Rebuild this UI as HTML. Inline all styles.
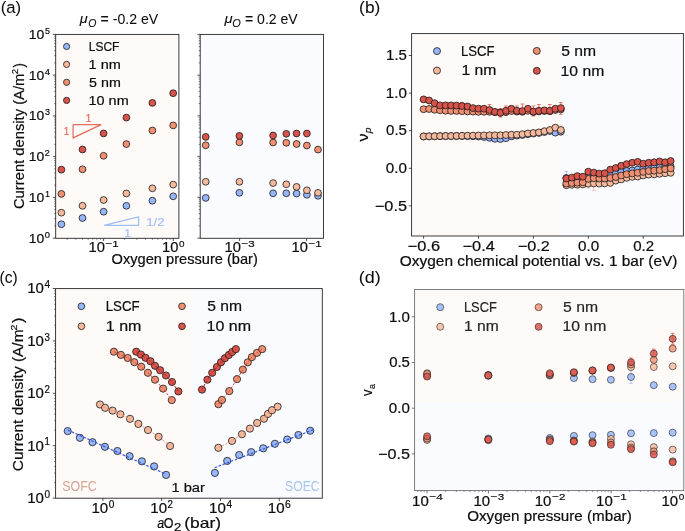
<!DOCTYPE html>
<html><head><meta charset="utf-8"><style>
html,body{margin:0;padding:0;background:#fff;}
svg{display:block;font-family:"Liberation Sans", sans-serif;font-kerning:none;filter:blur(0.4px);}
</style></head><body>
<svg width="685" height="531" viewBox="0 0 685 531">
<rect x="0" y="0" width="685" height="531" fill="#fff"/>
<rect x="56.20" y="34.90" width="122.20" height="202.90" fill="#fefaf7"/>
<rect x="200.70" y="34.90" width="122.30" height="202.90" fill="#f9fbfe"/>
<polyline points="73.10,124.60 101.10,124.60 73.10,137.90 73.10,124.60" fill="none" stroke="#e46d5d" stroke-width="1.25"/>
<text x="85.49" y="121.90" font-size="11.20" textLength="5.93" lengthAdjust="spacingAndGlyphs" fill="#e46d5d" stroke="#e46d5d" stroke-width="0.15">1</text>
<text x="63.49" y="135.00" font-size="11.20" textLength="5.93" lengthAdjust="spacingAndGlyphs" fill="#e46d5d" stroke="#e46d5d" stroke-width="0.15">1</text>
<polyline points="104.10,225.30 138.60,225.30 138.60,216.90 104.10,225.30" fill="none" stroke="#a0bef8" stroke-width="1.3"/>
<text x="146.19" y="225.50" font-size="11.20" textLength="18.37" lengthAdjust="spacingAndGlyphs" fill="#a0bef8" stroke="#a0bef8" stroke-width="0.15">1/2</text>
<text x="124.38" y="236.50" font-size="11.20" textLength="6.71" lengthAdjust="spacingAndGlyphs" fill="#a0bef8" stroke="#a0bef8" stroke-width="0.15">1</text>
<circle cx="61.40" cy="224.20" r="3.4" fill="#96b6fb" stroke="#1a1a1a" stroke-width="0.8"/>
<circle cx="82.50" cy="218.00" r="3.4" fill="#96b6fb" stroke="#1a1a1a" stroke-width="0.8"/>
<circle cx="103.60" cy="211.70" r="3.4" fill="#96b6fb" stroke="#1a1a1a" stroke-width="0.8"/>
<circle cx="126.40" cy="205.80" r="3.4" fill="#96b6fb" stroke="#1a1a1a" stroke-width="0.8"/>
<circle cx="152.40" cy="200.70" r="3.4" fill="#96b6fb" stroke="#1a1a1a" stroke-width="0.8"/>
<circle cx="173.20" cy="196.30" r="3.4" fill="#96b6fb" stroke="#1a1a1a" stroke-width="0.8"/>
<circle cx="205.70" cy="197.90" r="3.4" fill="#96b6fb" stroke="#1a1a1a" stroke-width="0.8"/>
<circle cx="239.40" cy="192.80" r="3.4" fill="#96b6fb" stroke="#1a1a1a" stroke-width="0.8"/>
<circle cx="273.10" cy="193.30" r="3.4" fill="#96b6fb" stroke="#1a1a1a" stroke-width="0.8"/>
<circle cx="286.30" cy="193.30" r="3.4" fill="#96b6fb" stroke="#1a1a1a" stroke-width="0.8"/>
<circle cx="296.60" cy="193.60" r="3.4" fill="#96b6fb" stroke="#1a1a1a" stroke-width="0.8"/>
<circle cx="306.90" cy="194.80" r="3.4" fill="#96b6fb" stroke="#1a1a1a" stroke-width="0.8"/>
<circle cx="318.00" cy="195.80" r="3.4" fill="#96b6fb" stroke="#1a1a1a" stroke-width="0.8"/>
<circle cx="61.40" cy="212.70" r="3.4" fill="#f5b99d" stroke="#1a1a1a" stroke-width="0.8"/>
<circle cx="82.50" cy="205.80" r="3.4" fill="#f5b99d" stroke="#1a1a1a" stroke-width="0.8"/>
<circle cx="103.60" cy="200.00" r="3.4" fill="#f5b99d" stroke="#1a1a1a" stroke-width="0.8"/>
<circle cx="126.40" cy="193.40" r="3.4" fill="#f5b99d" stroke="#1a1a1a" stroke-width="0.8"/>
<circle cx="152.40" cy="188.30" r="3.4" fill="#f5b99d" stroke="#1a1a1a" stroke-width="0.8"/>
<circle cx="173.20" cy="184.60" r="3.4" fill="#f5b99d" stroke="#1a1a1a" stroke-width="0.8"/>
<circle cx="205.70" cy="181.80" r="3.4" fill="#f5b99d" stroke="#1a1a1a" stroke-width="0.8"/>
<circle cx="239.40" cy="181.80" r="3.4" fill="#f5b99d" stroke="#1a1a1a" stroke-width="0.8"/>
<circle cx="273.10" cy="183.10" r="3.4" fill="#f5b99d" stroke="#1a1a1a" stroke-width="0.8"/>
<circle cx="286.30" cy="184.30" r="3.4" fill="#f5b99d" stroke="#1a1a1a" stroke-width="0.8"/>
<circle cx="296.60" cy="186.90" r="3.4" fill="#f5b99d" stroke="#1a1a1a" stroke-width="0.8"/>
<circle cx="306.90" cy="190.30" r="3.4" fill="#f5b99d" stroke="#1a1a1a" stroke-width="0.8"/>
<circle cx="318.00" cy="192.80" r="3.4" fill="#f5b99d" stroke="#1a1a1a" stroke-width="0.8"/>
<circle cx="61.40" cy="193.90" r="3.4" fill="#f09072" stroke="#1a1a1a" stroke-width="0.8"/>
<circle cx="82.50" cy="169.30" r="3.4" fill="#f09072" stroke="#1a1a1a" stroke-width="0.8"/>
<circle cx="103.60" cy="155.80" r="3.4" fill="#f09072" stroke="#1a1a1a" stroke-width="0.8"/>
<circle cx="126.40" cy="144.10" r="3.4" fill="#f09072" stroke="#1a1a1a" stroke-width="0.8"/>
<circle cx="152.40" cy="130.50" r="3.4" fill="#f09072" stroke="#1a1a1a" stroke-width="0.8"/>
<circle cx="173.20" cy="125.40" r="3.4" fill="#f09072" stroke="#1a1a1a" stroke-width="0.8"/>
<circle cx="205.70" cy="145.30" r="3.4" fill="#f09072" stroke="#1a1a1a" stroke-width="0.8"/>
<circle cx="239.40" cy="142.30" r="3.4" fill="#f09072" stroke="#1a1a1a" stroke-width="0.8"/>
<circle cx="273.10" cy="142.50" r="3.4" fill="#f09072" stroke="#1a1a1a" stroke-width="0.8"/>
<circle cx="286.30" cy="142.80" r="3.4" fill="#f09072" stroke="#1a1a1a" stroke-width="0.8"/>
<circle cx="296.60" cy="144.00" r="3.4" fill="#f09072" stroke="#1a1a1a" stroke-width="0.8"/>
<circle cx="306.90" cy="145.50" r="3.4" fill="#f09072" stroke="#1a1a1a" stroke-width="0.8"/>
<circle cx="318.00" cy="149.60" r="3.4" fill="#f09072" stroke="#1a1a1a" stroke-width="0.8"/>
<circle cx="61.40" cy="169.70" r="3.4" fill="#d8534a" stroke="#1a1a1a" stroke-width="0.8"/>
<circle cx="82.50" cy="149.50" r="3.4" fill="#d8534a" stroke="#1a1a1a" stroke-width="0.8"/>
<circle cx="103.60" cy="133.40" r="3.4" fill="#d8534a" stroke="#1a1a1a" stroke-width="0.8"/>
<circle cx="126.40" cy="117.60" r="3.4" fill="#d8534a" stroke="#1a1a1a" stroke-width="0.8"/>
<circle cx="152.40" cy="102.90" r="3.4" fill="#d8534a" stroke="#1a1a1a" stroke-width="0.8"/>
<circle cx="173.20" cy="93.20" r="3.4" fill="#d8534a" stroke="#1a1a1a" stroke-width="0.8"/>
<circle cx="205.70" cy="136.90" r="3.4" fill="#d8534a" stroke="#1a1a1a" stroke-width="0.8"/>
<circle cx="239.40" cy="135.90" r="3.4" fill="#d8534a" stroke="#1a1a1a" stroke-width="0.8"/>
<circle cx="273.10" cy="135.50" r="3.4" fill="#d8534a" stroke="#1a1a1a" stroke-width="0.8"/>
<circle cx="286.30" cy="133.80" r="3.4" fill="#d8534a" stroke="#1a1a1a" stroke-width="0.8"/>
<circle cx="296.60" cy="133.50" r="3.4" fill="#d8534a" stroke="#1a1a1a" stroke-width="0.8"/>
<circle cx="306.90" cy="133.50" r="3.4" fill="#d8534a" stroke="#1a1a1a" stroke-width="0.8"/>
<circle cx="66.60" cy="46.50" r="3.1" fill="#96b6fb" stroke="#1a1a1a" stroke-width="0.8"/>
<text x="88.72" y="50.70" font-size="13.16" textLength="30.66" lengthAdjust="spacingAndGlyphs" fill="#0d0d0d" stroke="#0d0d0d" stroke-width="0.2">LSCF</text>
<circle cx="66.60" cy="64.40" r="3.1" fill="#f5b99d" stroke="#1a1a1a" stroke-width="0.8"/>
<text x="88.59" y="68.90" font-size="13.16" textLength="32.26" lengthAdjust="spacingAndGlyphs" fill="#0d0d0d" stroke="#0d0d0d" stroke-width="0.2">1 nm</text>
<circle cx="66.60" cy="82.30" r="3.1" fill="#f09072" stroke="#1a1a1a" stroke-width="0.8"/>
<text x="89.13" y="86.90" font-size="13.16" textLength="31.71" lengthAdjust="spacingAndGlyphs" fill="#0d0d0d" stroke="#0d0d0d" stroke-width="0.2">5 nm</text>
<circle cx="66.60" cy="100.40" r="3.1" fill="#d8534a" stroke="#1a1a1a" stroke-width="0.8"/>
<text x="88.60" y="105.00" font-size="13.16" textLength="40.05" lengthAdjust="spacingAndGlyphs" fill="#0d0d0d" stroke="#0d0d0d" stroke-width="0.2">10 nm</text>
<rect x="55.70" y="34.40" width="123.20" height="203.90" fill="none" stroke="#262626" stroke-width="0.9"/>
<rect x="200.20" y="34.40" width="123.30" height="203.90" fill="none" stroke="#262626" stroke-width="0.9"/>
<line x1="52.90" y1="238.10" x2="55.70" y2="238.10" stroke="#262626" stroke-width="0.8"/>
<line x1="54.20" y1="225.84" x2="55.70" y2="225.84" stroke="#262626" stroke-width="0.6"/>
<line x1="54.20" y1="218.66" x2="55.70" y2="218.66" stroke="#262626" stroke-width="0.6"/>
<line x1="54.20" y1="213.57" x2="55.70" y2="213.57" stroke="#262626" stroke-width="0.6"/>
<line x1="54.20" y1="209.62" x2="55.70" y2="209.62" stroke="#262626" stroke-width="0.6"/>
<line x1="54.20" y1="206.40" x2="55.70" y2="206.40" stroke="#262626" stroke-width="0.6"/>
<line x1="54.20" y1="203.67" x2="55.70" y2="203.67" stroke="#262626" stroke-width="0.6"/>
<line x1="54.20" y1="201.31" x2="55.70" y2="201.31" stroke="#262626" stroke-width="0.6"/>
<line x1="54.20" y1="199.22" x2="55.70" y2="199.22" stroke="#262626" stroke-width="0.6"/>
<line x1="52.90" y1="197.36" x2="55.70" y2="197.36" stroke="#262626" stroke-width="0.8"/>
<line x1="54.20" y1="185.10" x2="55.70" y2="185.10" stroke="#262626" stroke-width="0.6"/>
<line x1="54.20" y1="177.92" x2="55.70" y2="177.92" stroke="#262626" stroke-width="0.6"/>
<line x1="54.20" y1="172.83" x2="55.70" y2="172.83" stroke="#262626" stroke-width="0.6"/>
<line x1="54.20" y1="168.88" x2="55.70" y2="168.88" stroke="#262626" stroke-width="0.6"/>
<line x1="54.20" y1="165.66" x2="55.70" y2="165.66" stroke="#262626" stroke-width="0.6"/>
<line x1="54.20" y1="162.93" x2="55.70" y2="162.93" stroke="#262626" stroke-width="0.6"/>
<line x1="54.20" y1="160.57" x2="55.70" y2="160.57" stroke="#262626" stroke-width="0.6"/>
<line x1="54.20" y1="158.48" x2="55.70" y2="158.48" stroke="#262626" stroke-width="0.6"/>
<line x1="52.90" y1="156.62" x2="55.70" y2="156.62" stroke="#262626" stroke-width="0.8"/>
<line x1="54.20" y1="144.36" x2="55.70" y2="144.36" stroke="#262626" stroke-width="0.6"/>
<line x1="54.20" y1="137.18" x2="55.70" y2="137.18" stroke="#262626" stroke-width="0.6"/>
<line x1="54.20" y1="132.09" x2="55.70" y2="132.09" stroke="#262626" stroke-width="0.6"/>
<line x1="54.20" y1="128.14" x2="55.70" y2="128.14" stroke="#262626" stroke-width="0.6"/>
<line x1="54.20" y1="124.92" x2="55.70" y2="124.92" stroke="#262626" stroke-width="0.6"/>
<line x1="54.20" y1="122.19" x2="55.70" y2="122.19" stroke="#262626" stroke-width="0.6"/>
<line x1="54.20" y1="119.83" x2="55.70" y2="119.83" stroke="#262626" stroke-width="0.6"/>
<line x1="54.20" y1="117.74" x2="55.70" y2="117.74" stroke="#262626" stroke-width="0.6"/>
<line x1="52.90" y1="115.88" x2="55.70" y2="115.88" stroke="#262626" stroke-width="0.8"/>
<line x1="54.20" y1="103.62" x2="55.70" y2="103.62" stroke="#262626" stroke-width="0.6"/>
<line x1="54.20" y1="96.44" x2="55.70" y2="96.44" stroke="#262626" stroke-width="0.6"/>
<line x1="54.20" y1="91.35" x2="55.70" y2="91.35" stroke="#262626" stroke-width="0.6"/>
<line x1="54.20" y1="87.40" x2="55.70" y2="87.40" stroke="#262626" stroke-width="0.6"/>
<line x1="54.20" y1="84.18" x2="55.70" y2="84.18" stroke="#262626" stroke-width="0.6"/>
<line x1="54.20" y1="81.45" x2="55.70" y2="81.45" stroke="#262626" stroke-width="0.6"/>
<line x1="54.20" y1="79.09" x2="55.70" y2="79.09" stroke="#262626" stroke-width="0.6"/>
<line x1="54.20" y1="77.00" x2="55.70" y2="77.00" stroke="#262626" stroke-width="0.6"/>
<line x1="52.90" y1="75.14" x2="55.70" y2="75.14" stroke="#262626" stroke-width="0.8"/>
<line x1="54.20" y1="62.88" x2="55.70" y2="62.88" stroke="#262626" stroke-width="0.6"/>
<line x1="54.20" y1="55.70" x2="55.70" y2="55.70" stroke="#262626" stroke-width="0.6"/>
<line x1="54.20" y1="50.61" x2="55.70" y2="50.61" stroke="#262626" stroke-width="0.6"/>
<line x1="54.20" y1="46.66" x2="55.70" y2="46.66" stroke="#262626" stroke-width="0.6"/>
<line x1="54.20" y1="43.44" x2="55.70" y2="43.44" stroke="#262626" stroke-width="0.6"/>
<line x1="54.20" y1="40.71" x2="55.70" y2="40.71" stroke="#262626" stroke-width="0.6"/>
<line x1="54.20" y1="38.35" x2="55.70" y2="38.35" stroke="#262626" stroke-width="0.6"/>
<line x1="54.20" y1="36.26" x2="55.70" y2="36.26" stroke="#262626" stroke-width="0.6"/>
<line x1="52.90" y1="34.40" x2="55.70" y2="34.40" stroke="#262626" stroke-width="0.8"/>
<line x1="197.40" y1="238.10" x2="200.20" y2="238.10" stroke="#262626" stroke-width="0.8"/>
<line x1="198.70" y1="225.84" x2="200.20" y2="225.84" stroke="#262626" stroke-width="0.6"/>
<line x1="198.70" y1="218.66" x2="200.20" y2="218.66" stroke="#262626" stroke-width="0.6"/>
<line x1="198.70" y1="213.57" x2="200.20" y2="213.57" stroke="#262626" stroke-width="0.6"/>
<line x1="198.70" y1="209.62" x2="200.20" y2="209.62" stroke="#262626" stroke-width="0.6"/>
<line x1="198.70" y1="206.40" x2="200.20" y2="206.40" stroke="#262626" stroke-width="0.6"/>
<line x1="198.70" y1="203.67" x2="200.20" y2="203.67" stroke="#262626" stroke-width="0.6"/>
<line x1="198.70" y1="201.31" x2="200.20" y2="201.31" stroke="#262626" stroke-width="0.6"/>
<line x1="198.70" y1="199.22" x2="200.20" y2="199.22" stroke="#262626" stroke-width="0.6"/>
<line x1="197.40" y1="197.36" x2="200.20" y2="197.36" stroke="#262626" stroke-width="0.8"/>
<line x1="198.70" y1="185.10" x2="200.20" y2="185.10" stroke="#262626" stroke-width="0.6"/>
<line x1="198.70" y1="177.92" x2="200.20" y2="177.92" stroke="#262626" stroke-width="0.6"/>
<line x1="198.70" y1="172.83" x2="200.20" y2="172.83" stroke="#262626" stroke-width="0.6"/>
<line x1="198.70" y1="168.88" x2="200.20" y2="168.88" stroke="#262626" stroke-width="0.6"/>
<line x1="198.70" y1="165.66" x2="200.20" y2="165.66" stroke="#262626" stroke-width="0.6"/>
<line x1="198.70" y1="162.93" x2="200.20" y2="162.93" stroke="#262626" stroke-width="0.6"/>
<line x1="198.70" y1="160.57" x2="200.20" y2="160.57" stroke="#262626" stroke-width="0.6"/>
<line x1="198.70" y1="158.48" x2="200.20" y2="158.48" stroke="#262626" stroke-width="0.6"/>
<line x1="197.40" y1="156.62" x2="200.20" y2="156.62" stroke="#262626" stroke-width="0.8"/>
<line x1="198.70" y1="144.36" x2="200.20" y2="144.36" stroke="#262626" stroke-width="0.6"/>
<line x1="198.70" y1="137.18" x2="200.20" y2="137.18" stroke="#262626" stroke-width="0.6"/>
<line x1="198.70" y1="132.09" x2="200.20" y2="132.09" stroke="#262626" stroke-width="0.6"/>
<line x1="198.70" y1="128.14" x2="200.20" y2="128.14" stroke="#262626" stroke-width="0.6"/>
<line x1="198.70" y1="124.92" x2="200.20" y2="124.92" stroke="#262626" stroke-width="0.6"/>
<line x1="198.70" y1="122.19" x2="200.20" y2="122.19" stroke="#262626" stroke-width="0.6"/>
<line x1="198.70" y1="119.83" x2="200.20" y2="119.83" stroke="#262626" stroke-width="0.6"/>
<line x1="198.70" y1="117.74" x2="200.20" y2="117.74" stroke="#262626" stroke-width="0.6"/>
<line x1="197.40" y1="115.88" x2="200.20" y2="115.88" stroke="#262626" stroke-width="0.8"/>
<line x1="198.70" y1="103.62" x2="200.20" y2="103.62" stroke="#262626" stroke-width="0.6"/>
<line x1="198.70" y1="96.44" x2="200.20" y2="96.44" stroke="#262626" stroke-width="0.6"/>
<line x1="198.70" y1="91.35" x2="200.20" y2="91.35" stroke="#262626" stroke-width="0.6"/>
<line x1="198.70" y1="87.40" x2="200.20" y2="87.40" stroke="#262626" stroke-width="0.6"/>
<line x1="198.70" y1="84.18" x2="200.20" y2="84.18" stroke="#262626" stroke-width="0.6"/>
<line x1="198.70" y1="81.45" x2="200.20" y2="81.45" stroke="#262626" stroke-width="0.6"/>
<line x1="198.70" y1="79.09" x2="200.20" y2="79.09" stroke="#262626" stroke-width="0.6"/>
<line x1="198.70" y1="77.00" x2="200.20" y2="77.00" stroke="#262626" stroke-width="0.6"/>
<line x1="197.40" y1="75.14" x2="200.20" y2="75.14" stroke="#262626" stroke-width="0.8"/>
<line x1="198.70" y1="62.88" x2="200.20" y2="62.88" stroke="#262626" stroke-width="0.6"/>
<line x1="198.70" y1="55.70" x2="200.20" y2="55.70" stroke="#262626" stroke-width="0.6"/>
<line x1="198.70" y1="50.61" x2="200.20" y2="50.61" stroke="#262626" stroke-width="0.6"/>
<line x1="198.70" y1="46.66" x2="200.20" y2="46.66" stroke="#262626" stroke-width="0.6"/>
<line x1="198.70" y1="43.44" x2="200.20" y2="43.44" stroke="#262626" stroke-width="0.6"/>
<line x1="198.70" y1="40.71" x2="200.20" y2="40.71" stroke="#262626" stroke-width="0.6"/>
<line x1="198.70" y1="38.35" x2="200.20" y2="38.35" stroke="#262626" stroke-width="0.6"/>
<line x1="198.70" y1="36.26" x2="200.20" y2="36.26" stroke="#262626" stroke-width="0.6"/>
<line x1="197.40" y1="34.40" x2="200.20" y2="34.40" stroke="#262626" stroke-width="0.8"/>
<line x1="103.60" y1="238.30" x2="103.60" y2="241.10" stroke="#262626" stroke-width="0.8"/>
<line x1="173.30" y1="238.30" x2="173.30" y2="241.10" stroke="#262626" stroke-width="0.8"/>
<line x1="67.16" y1="238.30" x2="67.16" y2="239.80" stroke="#262626" stroke-width="0.6"/>
<line x1="75.86" y1="238.30" x2="75.86" y2="239.80" stroke="#262626" stroke-width="0.6"/>
<line x1="82.62" y1="238.30" x2="82.62" y2="239.80" stroke="#262626" stroke-width="0.6"/>
<line x1="88.14" y1="238.30" x2="88.14" y2="239.80" stroke="#262626" stroke-width="0.6"/>
<line x1="92.80" y1="238.30" x2="92.80" y2="239.80" stroke="#262626" stroke-width="0.6"/>
<line x1="96.85" y1="238.30" x2="96.85" y2="239.80" stroke="#262626" stroke-width="0.6"/>
<line x1="100.41" y1="238.30" x2="100.41" y2="239.80" stroke="#262626" stroke-width="0.6"/>
<line x1="124.58" y1="238.30" x2="124.58" y2="239.80" stroke="#262626" stroke-width="0.6"/>
<line x1="136.86" y1="238.30" x2="136.86" y2="239.80" stroke="#262626" stroke-width="0.6"/>
<line x1="145.56" y1="238.30" x2="145.56" y2="239.80" stroke="#262626" stroke-width="0.6"/>
<line x1="152.32" y1="238.30" x2="152.32" y2="239.80" stroke="#262626" stroke-width="0.6"/>
<line x1="157.84" y1="238.30" x2="157.84" y2="239.80" stroke="#262626" stroke-width="0.6"/>
<line x1="162.50" y1="238.30" x2="162.50" y2="239.80" stroke="#262626" stroke-width="0.6"/>
<line x1="166.55" y1="238.30" x2="166.55" y2="239.80" stroke="#262626" stroke-width="0.6"/>
<line x1="170.11" y1="238.30" x2="170.11" y2="239.80" stroke="#262626" stroke-width="0.6"/>
<line x1="239.60" y1="238.30" x2="239.60" y2="241.10" stroke="#262626" stroke-width="0.8"/>
<line x1="306.60" y1="238.30" x2="306.60" y2="241.10" stroke="#262626" stroke-width="0.8"/>
<text x="28.84" y="38.90" font-size="13.26" textLength="15.53" lengthAdjust="spacingAndGlyphs" fill="#0d0d0d" stroke="#0d0d0d" stroke-width="0.2">10</text>
<text x="45.00" y="34.00" font-size="9.28" textLength="4.92" lengthAdjust="spacingAndGlyphs" fill="#0d0d0d" stroke="#0d0d0d" stroke-width="0.2">5</text>
<text x="28.84" y="79.64" font-size="13.26" textLength="15.53" lengthAdjust="spacingAndGlyphs" fill="#0d0d0d" stroke="#0d0d0d" stroke-width="0.2">10</text>
<text x="44.88" y="74.74" font-size="9.28" textLength="5.21" lengthAdjust="spacingAndGlyphs" fill="#0d0d0d" stroke="#0d0d0d" stroke-width="0.2">4</text>
<text x="28.84" y="120.38" font-size="13.26" textLength="15.53" lengthAdjust="spacingAndGlyphs" fill="#0d0d0d" stroke="#0d0d0d" stroke-width="0.2">10</text>
<text x="45.00" y="115.48" font-size="9.28" textLength="5.01" lengthAdjust="spacingAndGlyphs" fill="#0d0d0d" stroke="#0d0d0d" stroke-width="0.2">3</text>
<text x="28.84" y="161.12" font-size="13.26" textLength="15.53" lengthAdjust="spacingAndGlyphs" fill="#0d0d0d" stroke="#0d0d0d" stroke-width="0.2">10</text>
<text x="44.86" y="156.22" font-size="9.28" textLength="5.02" lengthAdjust="spacingAndGlyphs" fill="#0d0d0d" stroke="#0d0d0d" stroke-width="0.2">2</text>
<text x="28.84" y="201.86" font-size="13.26" textLength="15.53" lengthAdjust="spacingAndGlyphs" fill="#0d0d0d" stroke="#0d0d0d" stroke-width="0.2">10</text>
<text x="44.96" y="196.96" font-size="9.28" textLength="4.98" lengthAdjust="spacingAndGlyphs" fill="#0d0d0d" stroke="#0d0d0d" stroke-width="0.2">1</text>
<text x="28.84" y="242.60" font-size="13.26" textLength="15.53" lengthAdjust="spacingAndGlyphs" fill="#0d0d0d" stroke="#0d0d0d" stroke-width="0.2">10</text>
<text x="44.88" y="237.70" font-size="9.28" textLength="5.21" lengthAdjust="spacingAndGlyphs" fill="#0d0d0d" stroke="#0d0d0d" stroke-width="0.2">0</text>
<text x="88.51" y="252.30" font-size="14.00" textLength="16.39" lengthAdjust="spacingAndGlyphs" fill="#0d0d0d" stroke="#0d0d0d" stroke-width="0.2">10</text>
<text x="105.64" y="247.10" font-size="9.80" textLength="13.09" lengthAdjust="spacingAndGlyphs" fill="#0d0d0d" stroke="#0d0d0d" stroke-width="0.2">−1</text>
<text x="162.14" y="252.30" font-size="14.00" textLength="16.39" lengthAdjust="spacingAndGlyphs" fill="#0d0d0d" stroke="#0d0d0d" stroke-width="0.2">10</text>
<text x="179.07" y="247.10" font-size="9.80" textLength="5.50" lengthAdjust="spacingAndGlyphs" fill="#0d0d0d" stroke="#0d0d0d" stroke-width="0.2">0</text>
<text x="224.51" y="252.30" font-size="14.00" textLength="16.39" lengthAdjust="spacingAndGlyphs" fill="#0d0d0d" stroke="#0d0d0d" stroke-width="0.2">10</text>
<text x="241.64" y="247.10" font-size="9.80" textLength="13.16" lengthAdjust="spacingAndGlyphs" fill="#0d0d0d" stroke="#0d0d0d" stroke-width="0.2">−3</text>
<text x="291.51" y="252.30" font-size="14.00" textLength="16.39" lengthAdjust="spacingAndGlyphs" fill="#0d0d0d" stroke="#0d0d0d" stroke-width="0.2">10</text>
<text x="308.64" y="247.10" font-size="9.80" textLength="13.09" lengthAdjust="spacingAndGlyphs" fill="#0d0d0d" stroke="#0d0d0d" stroke-width="0.2">−1</text>
<text x="111.61" y="264.10" font-size="14.20" textLength="146.20" lengthAdjust="spacingAndGlyphs" fill="#0d0d0d" stroke="#0d0d0d" stroke-width="0.2">Oxygen pressure (bar)</text>
<text transform="rotate(-90)" x="-209.05" y="23.90" font-size="14.10" textLength="135.42" lengthAdjust="spacingAndGlyphs" fill="#0d0d0d" stroke="#0d0d0d" stroke-width="0.2">Current density (A/m</text>
<text transform="rotate(-90)" x="-74.19" y="18.00" font-size="9.87" textLength="5.37" lengthAdjust="spacingAndGlyphs" fill="#0d0d0d" stroke="#0d0d0d" stroke-width="0.2">2</text>
<text transform="rotate(-90)" x="-67.38" y="23.90" font-size="14.10" textLength="4.40" lengthAdjust="spacingAndGlyphs" fill="#0d0d0d" stroke="#0d0d0d" stroke-width="0.2">)</text>
<text x="79.70" y="23.40" font-size="13.50" textLength="7.93" lengthAdjust="spacingAndGlyphs" fill="#0d0d0d" font-style="italic" stroke="#0d0d0d" stroke-width="0.1">μ</text>
<text x="88.33" y="26.60" font-size="10.40" textLength="8.16" lengthAdjust="spacingAndGlyphs" fill="#0d0d0d" font-style="italic" stroke="#0d0d0d" stroke-width="0.1">O</text>
<text x="100.61" y="23.80" font-size="13.80" textLength="57.65" lengthAdjust="spacingAndGlyphs" fill="#0d0d0d" stroke="#0d0d0d" stroke-width="0.05">= -0.2 eV</text>
<text x="224.41" y="23.40" font-size="13.50" textLength="8.13" lengthAdjust="spacingAndGlyphs" fill="#0d0d0d" font-style="italic" stroke="#0d0d0d" stroke-width="0.1">μ</text>
<text x="232.21" y="26.60" font-size="10.40" textLength="8.50" lengthAdjust="spacingAndGlyphs" fill="#0d0d0d" font-style="italic" stroke="#0d0d0d" stroke-width="0.1">O</text>
<text x="245.01" y="23.80" font-size="13.80" textLength="52.75" lengthAdjust="spacingAndGlyphs" fill="#0d0d0d" stroke="#0d0d0d" stroke-width="0.05">= 0.2 eV</text>
<text x="0.71" y="12.90" font-size="17.20" textLength="20.42" lengthAdjust="spacingAndGlyphs" fill="#0d0d0d" stroke="#0d0d0d" stroke-width="0.05">(a)</text>
<rect x="412.10" y="34.10" width="148.75" height="201.40" fill="#fefaf7"/>
<rect x="560.85" y="34.10" width="122.05" height="201.40" fill="#f9fbfe"/>
<line x1="560.85" y1="102.60" x2="560.85" y2="114.30" stroke="#e0574c" stroke-width="0.8"/>
<line x1="559.05" y1="102.60" x2="562.65" y2="102.60" stroke="#e0574c" stroke-width="0.8"/>
<line x1="559.05" y1="114.30" x2="562.65" y2="114.30" stroke="#e0574c" stroke-width="0.8"/>
<line x1="533.40" y1="106.00" x2="533.40" y2="116.00" stroke="#e0574c" stroke-width="0.8"/>
<line x1="531.60" y1="106.00" x2="535.20" y2="106.00" stroke="#e0574c" stroke-width="0.8"/>
<line x1="531.60" y1="116.00" x2="535.20" y2="116.00" stroke="#e0574c" stroke-width="0.8"/>
<line x1="500.46" y1="108.50" x2="500.46" y2="117.00" stroke="#e0574c" stroke-width="0.8"/>
<line x1="498.66" y1="108.50" x2="502.26" y2="108.50" stroke="#e0574c" stroke-width="0.8"/>
<line x1="498.66" y1="117.00" x2="502.26" y2="117.00" stroke="#e0574c" stroke-width="0.8"/>
<line x1="462.03" y1="102.50" x2="462.03" y2="109.50" stroke="#e0574c" stroke-width="0.8"/>
<line x1="460.23" y1="102.50" x2="463.83" y2="102.50" stroke="#e0574c" stroke-width="0.8"/>
<line x1="460.23" y1="109.50" x2="463.83" y2="109.50" stroke="#e0574c" stroke-width="0.8"/>
<line x1="489.48" y1="104.50" x2="489.48" y2="112.50" stroke="#e0574c" stroke-width="0.8"/>
<line x1="487.68" y1="104.50" x2="491.28" y2="104.50" stroke="#e0574c" stroke-width="0.8"/>
<line x1="487.68" y1="112.50" x2="491.28" y2="112.50" stroke="#e0574c" stroke-width="0.8"/>
<line x1="505.95" y1="106.00" x2="505.95" y2="115.50" stroke="#e0574c" stroke-width="0.8"/>
<line x1="504.15" y1="106.00" x2="507.75" y2="106.00" stroke="#e0574c" stroke-width="0.8"/>
<line x1="504.15" y1="115.50" x2="507.75" y2="115.50" stroke="#e0574c" stroke-width="0.8"/>
<line x1="549.87" y1="104.50" x2="549.87" y2="113.00" stroke="#e0574c" stroke-width="0.8"/>
<line x1="548.07" y1="104.50" x2="551.67" y2="104.50" stroke="#e0574c" stroke-width="0.8"/>
<line x1="548.07" y1="113.00" x2="551.67" y2="113.00" stroke="#e0574c" stroke-width="0.8"/>
<line x1="522.42" y1="104.00" x2="522.42" y2="113.50" stroke="#e0574c" stroke-width="0.8"/>
<line x1="520.62" y1="104.00" x2="524.22" y2="104.00" stroke="#e0574c" stroke-width="0.8"/>
<line x1="520.62" y1="113.50" x2="524.22" y2="113.50" stroke="#e0574c" stroke-width="0.8"/>
<line x1="538.89" y1="104.50" x2="538.89" y2="113.00" stroke="#e0574c" stroke-width="0.8"/>
<line x1="537.09" y1="104.50" x2="540.69" y2="104.50" stroke="#e0574c" stroke-width="0.8"/>
<line x1="537.09" y1="113.00" x2="540.69" y2="113.00" stroke="#e0574c" stroke-width="0.8"/>
<line x1="516.93" y1="106.00" x2="516.93" y2="113.50" stroke="#e0574c" stroke-width="0.8"/>
<line x1="515.13" y1="106.00" x2="518.73" y2="106.00" stroke="#e0574c" stroke-width="0.8"/>
<line x1="515.13" y1="113.50" x2="518.73" y2="113.50" stroke="#e0574c" stroke-width="0.8"/>
<line x1="555.36" y1="125.00" x2="555.36" y2="134.50" stroke="#f5b99d" stroke-width="0.8"/>
<line x1="553.56" y1="125.00" x2="557.16" y2="125.00" stroke="#f5b99d" stroke-width="0.8"/>
<line x1="553.56" y1="134.50" x2="557.16" y2="134.50" stroke="#f5b99d" stroke-width="0.8"/>
<line x1="560.85" y1="126.00" x2="560.85" y2="135.50" stroke="#f5b99d" stroke-width="0.8"/>
<line x1="559.05" y1="126.00" x2="562.65" y2="126.00" stroke="#f5b99d" stroke-width="0.8"/>
<line x1="559.05" y1="135.50" x2="562.65" y2="135.50" stroke="#f5b99d" stroke-width="0.8"/>
<line x1="566.34" y1="171.50" x2="566.34" y2="180.00" stroke="#96b6fb" stroke-width="0.8"/>
<line x1="564.54" y1="171.50" x2="568.14" y2="171.50" stroke="#96b6fb" stroke-width="0.8"/>
<line x1="564.54" y1="180.00" x2="568.14" y2="180.00" stroke="#96b6fb" stroke-width="0.8"/>
<line x1="577.32" y1="183.00" x2="577.32" y2="188.10" stroke="#f5b99d" stroke-width="0.8"/>
<line x1="575.52" y1="183.00" x2="579.12" y2="183.00" stroke="#f5b99d" stroke-width="0.8"/>
<line x1="575.52" y1="188.10" x2="579.12" y2="188.10" stroke="#f5b99d" stroke-width="0.8"/>
<line x1="593.79" y1="183.00" x2="593.79" y2="190.30" stroke="#f5b99d" stroke-width="0.8"/>
<line x1="591.99" y1="183.00" x2="595.59" y2="183.00" stroke="#f5b99d" stroke-width="0.8"/>
<line x1="591.99" y1="190.30" x2="595.59" y2="190.30" stroke="#f5b99d" stroke-width="0.8"/>
<line x1="588.30" y1="183.00" x2="588.30" y2="188.10" stroke="#f5b99d" stroke-width="0.8"/>
<line x1="586.50" y1="183.00" x2="590.10" y2="183.00" stroke="#f5b99d" stroke-width="0.8"/>
<line x1="586.50" y1="188.10" x2="590.10" y2="188.10" stroke="#f5b99d" stroke-width="0.8"/>
<circle cx="423.60" cy="136.50" r="3.45" fill="#96b6fb" stroke="#1a1a1a" stroke-width="0.8"/>
<circle cx="429.09" cy="136.40" r="3.45" fill="#96b6fb" stroke="#1a1a1a" stroke-width="0.8"/>
<circle cx="434.58" cy="136.30" r="3.45" fill="#96b6fb" stroke="#1a1a1a" stroke-width="0.8"/>
<circle cx="440.07" cy="136.20" r="3.45" fill="#96b6fb" stroke="#1a1a1a" stroke-width="0.8"/>
<circle cx="445.56" cy="136.10" r="3.45" fill="#96b6fb" stroke="#1a1a1a" stroke-width="0.8"/>
<circle cx="451.05" cy="136.10" r="3.45" fill="#96b6fb" stroke="#1a1a1a" stroke-width="0.8"/>
<circle cx="456.54" cy="136.10" r="3.45" fill="#96b6fb" stroke="#1a1a1a" stroke-width="0.8"/>
<circle cx="462.03" cy="136.10" r="3.45" fill="#96b6fb" stroke="#1a1a1a" stroke-width="0.8"/>
<circle cx="467.52" cy="136.20" r="3.45" fill="#96b6fb" stroke="#1a1a1a" stroke-width="0.8"/>
<circle cx="473.01" cy="136.30" r="3.45" fill="#96b6fb" stroke="#1a1a1a" stroke-width="0.8"/>
<circle cx="478.50" cy="136.50" r="3.45" fill="#96b6fb" stroke="#1a1a1a" stroke-width="0.8"/>
<circle cx="483.99" cy="137.00" r="3.45" fill="#96b6fb" stroke="#1a1a1a" stroke-width="0.8"/>
<circle cx="489.48" cy="137.80" r="3.45" fill="#96b6fb" stroke="#1a1a1a" stroke-width="0.8"/>
<circle cx="494.97" cy="138.80" r="3.45" fill="#96b6fb" stroke="#1a1a1a" stroke-width="0.8"/>
<circle cx="500.46" cy="139.00" r="3.45" fill="#96b6fb" stroke="#1a1a1a" stroke-width="0.8"/>
<circle cx="505.95" cy="138.20" r="3.45" fill="#96b6fb" stroke="#1a1a1a" stroke-width="0.8"/>
<circle cx="511.44" cy="136.40" r="3.45" fill="#96b6fb" stroke="#1a1a1a" stroke-width="0.8"/>
<circle cx="516.93" cy="135.60" r="3.45" fill="#96b6fb" stroke="#1a1a1a" stroke-width="0.8"/>
<circle cx="522.42" cy="135.00" r="3.45" fill="#96b6fb" stroke="#1a1a1a" stroke-width="0.8"/>
<circle cx="527.91" cy="134.20" r="3.45" fill="#96b6fb" stroke="#1a1a1a" stroke-width="0.8"/>
<circle cx="533.40" cy="133.50" r="3.45" fill="#96b6fb" stroke="#1a1a1a" stroke-width="0.8"/>
<circle cx="538.89" cy="132.90" r="3.45" fill="#96b6fb" stroke="#1a1a1a" stroke-width="0.8"/>
<circle cx="544.38" cy="132.00" r="3.45" fill="#96b6fb" stroke="#1a1a1a" stroke-width="0.8"/>
<circle cx="549.87" cy="131.00" r="3.45" fill="#96b6fb" stroke="#1a1a1a" stroke-width="0.8"/>
<circle cx="555.36" cy="132.60" r="3.45" fill="#96b6fb" stroke="#1a1a1a" stroke-width="0.8"/>
<circle cx="560.85" cy="131.60" r="3.45" fill="#96b6fb" stroke="#1a1a1a" stroke-width="0.8"/>
<circle cx="566.34" cy="178.00" r="3.45" fill="#96b6fb" stroke="#1a1a1a" stroke-width="0.8"/>
<circle cx="571.83" cy="179.00" r="3.45" fill="#96b6fb" stroke="#1a1a1a" stroke-width="0.8"/>
<circle cx="577.32" cy="180.00" r="3.45" fill="#96b6fb" stroke="#1a1a1a" stroke-width="0.8"/>
<circle cx="582.81" cy="179.50" r="3.45" fill="#96b6fb" stroke="#1a1a1a" stroke-width="0.8"/>
<circle cx="588.30" cy="177.50" r="3.45" fill="#96b6fb" stroke="#1a1a1a" stroke-width="0.8"/>
<circle cx="593.79" cy="177.00" r="3.45" fill="#96b6fb" stroke="#1a1a1a" stroke-width="0.8"/>
<circle cx="599.28" cy="177.00" r="3.45" fill="#96b6fb" stroke="#1a1a1a" stroke-width="0.8"/>
<circle cx="604.77" cy="176.50" r="3.45" fill="#96b6fb" stroke="#1a1a1a" stroke-width="0.8"/>
<circle cx="610.26" cy="175.00" r="3.45" fill="#96b6fb" stroke="#1a1a1a" stroke-width="0.8"/>
<circle cx="615.75" cy="173.00" r="3.45" fill="#96b6fb" stroke="#1a1a1a" stroke-width="0.8"/>
<circle cx="621.24" cy="172.00" r="3.45" fill="#96b6fb" stroke="#1a1a1a" stroke-width="0.8"/>
<circle cx="626.73" cy="171.00" r="3.45" fill="#96b6fb" stroke="#1a1a1a" stroke-width="0.8"/>
<circle cx="632.22" cy="170.50" r="3.45" fill="#96b6fb" stroke="#1a1a1a" stroke-width="0.8"/>
<circle cx="637.71" cy="169.50" r="3.45" fill="#96b6fb" stroke="#1a1a1a" stroke-width="0.8"/>
<circle cx="643.20" cy="169.00" r="3.45" fill="#96b6fb" stroke="#1a1a1a" stroke-width="0.8"/>
<circle cx="648.69" cy="168.50" r="3.45" fill="#96b6fb" stroke="#1a1a1a" stroke-width="0.8"/>
<circle cx="654.18" cy="168.00" r="3.45" fill="#96b6fb" stroke="#1a1a1a" stroke-width="0.8"/>
<circle cx="659.67" cy="167.50" r="3.45" fill="#96b6fb" stroke="#1a1a1a" stroke-width="0.8"/>
<circle cx="665.16" cy="167.00" r="3.45" fill="#96b6fb" stroke="#1a1a1a" stroke-width="0.8"/>
<circle cx="670.65" cy="166.50" r="3.45" fill="#96b6fb" stroke="#1a1a1a" stroke-width="0.8"/>
<circle cx="423.60" cy="136.40" r="3.45" fill="#f5b99d" stroke="#1a1a1a" stroke-width="0.8"/>
<circle cx="429.09" cy="136.30" r="3.45" fill="#f5b99d" stroke="#1a1a1a" stroke-width="0.8"/>
<circle cx="434.58" cy="136.20" r="3.45" fill="#f5b99d" stroke="#1a1a1a" stroke-width="0.8"/>
<circle cx="440.07" cy="136.10" r="3.45" fill="#f5b99d" stroke="#1a1a1a" stroke-width="0.8"/>
<circle cx="445.56" cy="136.00" r="3.45" fill="#f5b99d" stroke="#1a1a1a" stroke-width="0.8"/>
<circle cx="451.05" cy="136.00" r="3.45" fill="#f5b99d" stroke="#1a1a1a" stroke-width="0.8"/>
<circle cx="456.54" cy="135.90" r="3.45" fill="#f5b99d" stroke="#1a1a1a" stroke-width="0.8"/>
<circle cx="462.03" cy="135.80" r="3.45" fill="#f5b99d" stroke="#1a1a1a" stroke-width="0.8"/>
<circle cx="467.52" cy="135.70" r="3.45" fill="#f5b99d" stroke="#1a1a1a" stroke-width="0.8"/>
<circle cx="473.01" cy="135.60" r="3.45" fill="#f5b99d" stroke="#1a1a1a" stroke-width="0.8"/>
<circle cx="478.50" cy="135.50" r="3.45" fill="#f5b99d" stroke="#1a1a1a" stroke-width="0.8"/>
<circle cx="483.99" cy="135.40" r="3.45" fill="#f5b99d" stroke="#1a1a1a" stroke-width="0.8"/>
<circle cx="489.48" cy="135.30" r="3.45" fill="#f5b99d" stroke="#1a1a1a" stroke-width="0.8"/>
<circle cx="494.97" cy="135.30" r="3.45" fill="#f5b99d" stroke="#1a1a1a" stroke-width="0.8"/>
<circle cx="500.46" cy="135.30" r="3.45" fill="#f5b99d" stroke="#1a1a1a" stroke-width="0.8"/>
<circle cx="505.95" cy="135.00" r="3.45" fill="#f5b99d" stroke="#1a1a1a" stroke-width="0.8"/>
<circle cx="511.44" cy="134.70" r="3.45" fill="#f5b99d" stroke="#1a1a1a" stroke-width="0.8"/>
<circle cx="516.93" cy="134.70" r="3.45" fill="#f5b99d" stroke="#1a1a1a" stroke-width="0.8"/>
<circle cx="522.42" cy="134.20" r="3.45" fill="#f5b99d" stroke="#1a1a1a" stroke-width="0.8"/>
<circle cx="527.91" cy="133.50" r="3.45" fill="#f5b99d" stroke="#1a1a1a" stroke-width="0.8"/>
<circle cx="533.40" cy="133.00" r="3.45" fill="#f5b99d" stroke="#1a1a1a" stroke-width="0.8"/>
<circle cx="538.89" cy="132.40" r="3.45" fill="#f5b99d" stroke="#1a1a1a" stroke-width="0.8"/>
<circle cx="544.38" cy="131.20" r="3.45" fill="#f5b99d" stroke="#1a1a1a" stroke-width="0.8"/>
<circle cx="549.87" cy="130.00" r="3.45" fill="#f5b99d" stroke="#1a1a1a" stroke-width="0.8"/>
<circle cx="555.36" cy="127.70" r="3.45" fill="#f5b99d" stroke="#1a1a1a" stroke-width="0.8"/>
<circle cx="560.85" cy="130.00" r="3.45" fill="#f5b99d" stroke="#1a1a1a" stroke-width="0.8"/>
<circle cx="566.34" cy="185.20" r="3.45" fill="#f5b99d" stroke="#1a1a1a" stroke-width="0.8"/>
<circle cx="571.83" cy="184.80" r="3.45" fill="#f5b99d" stroke="#1a1a1a" stroke-width="0.8"/>
<circle cx="577.32" cy="184.60" r="3.45" fill="#f5b99d" stroke="#1a1a1a" stroke-width="0.8"/>
<circle cx="582.81" cy="184.40" r="3.45" fill="#f5b99d" stroke="#1a1a1a" stroke-width="0.8"/>
<circle cx="588.30" cy="183.60" r="3.45" fill="#f5b99d" stroke="#1a1a1a" stroke-width="0.8"/>
<circle cx="593.79" cy="183.40" r="3.45" fill="#f5b99d" stroke="#1a1a1a" stroke-width="0.8"/>
<circle cx="599.28" cy="183.60" r="3.45" fill="#f5b99d" stroke="#1a1a1a" stroke-width="0.8"/>
<circle cx="604.77" cy="183.40" r="3.45" fill="#f5b99d" stroke="#1a1a1a" stroke-width="0.8"/>
<circle cx="610.26" cy="182.90" r="3.45" fill="#f5b99d" stroke="#1a1a1a" stroke-width="0.8"/>
<circle cx="615.75" cy="180.60" r="3.45" fill="#f5b99d" stroke="#1a1a1a" stroke-width="0.8"/>
<circle cx="621.24" cy="179.40" r="3.45" fill="#f5b99d" stroke="#1a1a1a" stroke-width="0.8"/>
<circle cx="626.73" cy="177.80" r="3.45" fill="#f5b99d" stroke="#1a1a1a" stroke-width="0.8"/>
<circle cx="632.22" cy="176.80" r="3.45" fill="#f5b99d" stroke="#1a1a1a" stroke-width="0.8"/>
<circle cx="637.71" cy="176.50" r="3.45" fill="#f5b99d" stroke="#1a1a1a" stroke-width="0.8"/>
<circle cx="643.20" cy="175.40" r="3.45" fill="#f5b99d" stroke="#1a1a1a" stroke-width="0.8"/>
<circle cx="648.69" cy="174.60" r="3.45" fill="#f5b99d" stroke="#1a1a1a" stroke-width="0.8"/>
<circle cx="654.18" cy="174.30" r="3.45" fill="#f5b99d" stroke="#1a1a1a" stroke-width="0.8"/>
<circle cx="659.67" cy="173.80" r="3.45" fill="#f5b99d" stroke="#1a1a1a" stroke-width="0.8"/>
<circle cx="665.16" cy="173.20" r="3.45" fill="#f5b99d" stroke="#1a1a1a" stroke-width="0.8"/>
<circle cx="670.65" cy="172.80" r="3.45" fill="#f5b99d" stroke="#1a1a1a" stroke-width="0.8"/>
<circle cx="423.60" cy="109.20" r="3.45" fill="#f09072" stroke="#1a1a1a" stroke-width="0.8"/>
<circle cx="429.09" cy="109.00" r="3.45" fill="#f09072" stroke="#1a1a1a" stroke-width="0.8"/>
<circle cx="434.58" cy="109.80" r="3.45" fill="#f09072" stroke="#1a1a1a" stroke-width="0.8"/>
<circle cx="440.07" cy="110.30" r="3.45" fill="#f09072" stroke="#1a1a1a" stroke-width="0.8"/>
<circle cx="445.56" cy="110.70" r="3.45" fill="#f09072" stroke="#1a1a1a" stroke-width="0.8"/>
<circle cx="451.05" cy="110.90" r="3.45" fill="#f09072" stroke="#1a1a1a" stroke-width="0.8"/>
<circle cx="456.54" cy="110.90" r="3.45" fill="#f09072" stroke="#1a1a1a" stroke-width="0.8"/>
<circle cx="462.03" cy="111.20" r="3.45" fill="#f09072" stroke="#1a1a1a" stroke-width="0.8"/>
<circle cx="467.52" cy="111.40" r="3.45" fill="#f09072" stroke="#1a1a1a" stroke-width="0.8"/>
<circle cx="473.01" cy="111.60" r="3.45" fill="#f09072" stroke="#1a1a1a" stroke-width="0.8"/>
<circle cx="478.50" cy="111.80" r="3.45" fill="#f09072" stroke="#1a1a1a" stroke-width="0.8"/>
<circle cx="483.99" cy="111.80" r="3.45" fill="#f09072" stroke="#1a1a1a" stroke-width="0.8"/>
<circle cx="489.48" cy="111.80" r="3.45" fill="#f09072" stroke="#1a1a1a" stroke-width="0.8"/>
<circle cx="494.97" cy="112.20" r="3.45" fill="#f09072" stroke="#1a1a1a" stroke-width="0.8"/>
<circle cx="500.46" cy="112.60" r="3.45" fill="#f09072" stroke="#1a1a1a" stroke-width="0.8"/>
<circle cx="505.95" cy="112.00" r="3.45" fill="#f09072" stroke="#1a1a1a" stroke-width="0.8"/>
<circle cx="511.44" cy="111.00" r="3.45" fill="#f09072" stroke="#1a1a1a" stroke-width="0.8"/>
<circle cx="516.93" cy="111.60" r="3.45" fill="#f09072" stroke="#1a1a1a" stroke-width="0.8"/>
<circle cx="522.42" cy="111.80" r="3.45" fill="#f09072" stroke="#1a1a1a" stroke-width="0.8"/>
<circle cx="527.91" cy="110.80" r="3.45" fill="#f09072" stroke="#1a1a1a" stroke-width="0.8"/>
<circle cx="533.40" cy="112.00" r="3.45" fill="#f09072" stroke="#1a1a1a" stroke-width="0.8"/>
<circle cx="538.89" cy="111.40" r="3.45" fill="#f09072" stroke="#1a1a1a" stroke-width="0.8"/>
<circle cx="544.38" cy="111.00" r="3.45" fill="#f09072" stroke="#1a1a1a" stroke-width="0.8"/>
<circle cx="549.87" cy="111.20" r="3.45" fill="#f09072" stroke="#1a1a1a" stroke-width="0.8"/>
<circle cx="555.36" cy="110.00" r="3.45" fill="#f09072" stroke="#1a1a1a" stroke-width="0.8"/>
<circle cx="560.85" cy="109.40" r="3.45" fill="#f09072" stroke="#1a1a1a" stroke-width="0.8"/>
<circle cx="566.34" cy="183.50" r="3.45" fill="#f09072" stroke="#1a1a1a" stroke-width="0.8"/>
<circle cx="571.83" cy="183.00" r="3.45" fill="#f09072" stroke="#1a1a1a" stroke-width="0.8"/>
<circle cx="577.32" cy="182.60" r="3.45" fill="#f09072" stroke="#1a1a1a" stroke-width="0.8"/>
<circle cx="582.81" cy="182.30" r="3.45" fill="#f09072" stroke="#1a1a1a" stroke-width="0.8"/>
<circle cx="588.30" cy="178.90" r="3.45" fill="#f09072" stroke="#1a1a1a" stroke-width="0.8"/>
<circle cx="593.79" cy="178.20" r="3.45" fill="#f09072" stroke="#1a1a1a" stroke-width="0.8"/>
<circle cx="599.28" cy="178.50" r="3.45" fill="#f09072" stroke="#1a1a1a" stroke-width="0.8"/>
<circle cx="604.77" cy="178.50" r="3.45" fill="#f09072" stroke="#1a1a1a" stroke-width="0.8"/>
<circle cx="610.26" cy="178.00" r="3.45" fill="#f09072" stroke="#1a1a1a" stroke-width="0.8"/>
<circle cx="615.75" cy="177.00" r="3.45" fill="#f09072" stroke="#1a1a1a" stroke-width="0.8"/>
<circle cx="621.24" cy="175.50" r="3.45" fill="#f09072" stroke="#1a1a1a" stroke-width="0.8"/>
<circle cx="626.73" cy="174.20" r="3.45" fill="#f09072" stroke="#1a1a1a" stroke-width="0.8"/>
<circle cx="632.22" cy="173.40" r="3.45" fill="#f09072" stroke="#1a1a1a" stroke-width="0.8"/>
<circle cx="637.71" cy="172.80" r="3.45" fill="#f09072" stroke="#1a1a1a" stroke-width="0.8"/>
<circle cx="643.20" cy="171.90" r="3.45" fill="#f09072" stroke="#1a1a1a" stroke-width="0.8"/>
<circle cx="648.69" cy="171.00" r="3.45" fill="#f09072" stroke="#1a1a1a" stroke-width="0.8"/>
<circle cx="654.18" cy="170.70" r="3.45" fill="#f09072" stroke="#1a1a1a" stroke-width="0.8"/>
<circle cx="659.67" cy="170.10" r="3.45" fill="#f09072" stroke="#1a1a1a" stroke-width="0.8"/>
<circle cx="665.16" cy="169.20" r="3.45" fill="#f09072" stroke="#1a1a1a" stroke-width="0.8"/>
<circle cx="670.65" cy="168.30" r="3.45" fill="#f09072" stroke="#1a1a1a" stroke-width="0.8"/>
<circle cx="423.60" cy="99.40" r="3.45" fill="#d8534a" stroke="#1a1a1a" stroke-width="0.8"/>
<circle cx="429.09" cy="100.50" r="3.45" fill="#d8534a" stroke="#1a1a1a" stroke-width="0.8"/>
<circle cx="434.58" cy="103.20" r="3.45" fill="#d8534a" stroke="#1a1a1a" stroke-width="0.8"/>
<circle cx="440.07" cy="105.40" r="3.45" fill="#d8534a" stroke="#1a1a1a" stroke-width="0.8"/>
<circle cx="445.56" cy="105.40" r="3.45" fill="#d8534a" stroke="#1a1a1a" stroke-width="0.8"/>
<circle cx="451.05" cy="105.40" r="3.45" fill="#d8534a" stroke="#1a1a1a" stroke-width="0.8"/>
<circle cx="456.54" cy="105.60" r="3.45" fill="#d8534a" stroke="#1a1a1a" stroke-width="0.8"/>
<circle cx="462.03" cy="106.00" r="3.45" fill="#d8534a" stroke="#1a1a1a" stroke-width="0.8"/>
<circle cx="467.52" cy="106.50" r="3.45" fill="#d8534a" stroke="#1a1a1a" stroke-width="0.8"/>
<circle cx="473.01" cy="108.10" r="3.45" fill="#d8534a" stroke="#1a1a1a" stroke-width="0.8"/>
<circle cx="478.50" cy="108.70" r="3.45" fill="#d8534a" stroke="#1a1a1a" stroke-width="0.8"/>
<circle cx="483.99" cy="108.70" r="3.45" fill="#d8534a" stroke="#1a1a1a" stroke-width="0.8"/>
<circle cx="489.48" cy="110.00" r="3.45" fill="#d8534a" stroke="#1a1a1a" stroke-width="0.8"/>
<circle cx="494.97" cy="111.90" r="3.45" fill="#d8534a" stroke="#1a1a1a" stroke-width="0.8"/>
<circle cx="500.46" cy="112.80" r="3.45" fill="#d8534a" stroke="#1a1a1a" stroke-width="0.8"/>
<circle cx="505.95" cy="110.80" r="3.45" fill="#d8534a" stroke="#1a1a1a" stroke-width="0.8"/>
<circle cx="511.44" cy="108.80" r="3.45" fill="#d8534a" stroke="#1a1a1a" stroke-width="0.8"/>
<circle cx="516.93" cy="110.80" r="3.45" fill="#d8534a" stroke="#1a1a1a" stroke-width="0.8"/>
<circle cx="522.42" cy="111.10" r="3.45" fill="#d8534a" stroke="#1a1a1a" stroke-width="0.8"/>
<circle cx="527.91" cy="108.80" r="3.45" fill="#d8534a" stroke="#1a1a1a" stroke-width="0.8"/>
<circle cx="533.40" cy="111.60" r="3.45" fill="#d8534a" stroke="#1a1a1a" stroke-width="0.8"/>
<circle cx="538.89" cy="110.80" r="3.45" fill="#d8534a" stroke="#1a1a1a" stroke-width="0.8"/>
<circle cx="544.38" cy="110.40" r="3.45" fill="#d8534a" stroke="#1a1a1a" stroke-width="0.8"/>
<circle cx="549.87" cy="110.80" r="3.45" fill="#d8534a" stroke="#1a1a1a" stroke-width="0.8"/>
<circle cx="555.36" cy="108.80" r="3.45" fill="#d8534a" stroke="#1a1a1a" stroke-width="0.8"/>
<circle cx="560.85" cy="108.10" r="3.45" fill="#d8534a" stroke="#1a1a1a" stroke-width="0.8"/>
<circle cx="566.34" cy="178.50" r="3.45" fill="#d8534a" stroke="#1a1a1a" stroke-width="0.8"/>
<circle cx="571.83" cy="177.60" r="3.45" fill="#d8534a" stroke="#1a1a1a" stroke-width="0.8"/>
<circle cx="577.32" cy="176.10" r="3.45" fill="#d8534a" stroke="#1a1a1a" stroke-width="0.8"/>
<circle cx="582.81" cy="176.70" r="3.45" fill="#d8534a" stroke="#1a1a1a" stroke-width="0.8"/>
<circle cx="588.30" cy="171.70" r="3.45" fill="#d8534a" stroke="#1a1a1a" stroke-width="0.8"/>
<circle cx="593.79" cy="172.60" r="3.45" fill="#d8534a" stroke="#1a1a1a" stroke-width="0.8"/>
<circle cx="599.28" cy="173.60" r="3.45" fill="#d8534a" stroke="#1a1a1a" stroke-width="0.8"/>
<circle cx="604.77" cy="173.20" r="3.45" fill="#d8534a" stroke="#1a1a1a" stroke-width="0.8"/>
<circle cx="610.26" cy="169.70" r="3.45" fill="#d8534a" stroke="#1a1a1a" stroke-width="0.8"/>
<circle cx="615.75" cy="168.00" r="3.45" fill="#d8534a" stroke="#1a1a1a" stroke-width="0.8"/>
<circle cx="621.24" cy="165.80" r="3.45" fill="#d8534a" stroke="#1a1a1a" stroke-width="0.8"/>
<circle cx="626.73" cy="164.10" r="3.45" fill="#d8534a" stroke="#1a1a1a" stroke-width="0.8"/>
<circle cx="632.22" cy="162.80" r="3.45" fill="#d8534a" stroke="#1a1a1a" stroke-width="0.8"/>
<circle cx="637.71" cy="161.90" r="3.45" fill="#d8534a" stroke="#1a1a1a" stroke-width="0.8"/>
<circle cx="643.20" cy="163.70" r="3.45" fill="#d8534a" stroke="#1a1a1a" stroke-width="0.8"/>
<circle cx="648.69" cy="162.80" r="3.45" fill="#d8534a" stroke="#1a1a1a" stroke-width="0.8"/>
<circle cx="654.18" cy="162.30" r="3.45" fill="#d8534a" stroke="#1a1a1a" stroke-width="0.8"/>
<circle cx="659.67" cy="161.50" r="3.45" fill="#d8534a" stroke="#1a1a1a" stroke-width="0.8"/>
<circle cx="665.16" cy="162.30" r="3.45" fill="#d8534a" stroke="#1a1a1a" stroke-width="0.8"/>
<circle cx="670.65" cy="161.00" r="3.45" fill="#d8534a" stroke="#1a1a1a" stroke-width="0.8"/>
<circle cx="437.00" cy="51.10" r="3.5" fill="#96b6fb" stroke="#1a1a1a" stroke-width="0.8"/>
<circle cx="437.00" cy="70.60" r="3.5" fill="#f5b99d" stroke="#1a1a1a" stroke-width="0.8"/>
<circle cx="536.80" cy="50.90" r="3.5" fill="#f09072" stroke="#1a1a1a" stroke-width="0.8"/>
<circle cx="536.80" cy="70.80" r="3.5" fill="#d8534a" stroke="#1a1a1a" stroke-width="0.8"/>
<text x="461.02" y="55.50" font-size="14.41" textLength="33.60" lengthAdjust="spacingAndGlyphs" fill="#0d0d0d" stroke="#0d0d0d" stroke-width="0.2">LSCF</text>
<text x="461.40" y="75.40" font-size="14.41" textLength="35.04" lengthAdjust="spacingAndGlyphs" fill="#0d0d0d" stroke="#0d0d0d" stroke-width="0.2">1 nm</text>
<text x="561.17" y="55.50" font-size="14.41" textLength="34.86" lengthAdjust="spacingAndGlyphs" fill="#0d0d0d" stroke="#0d0d0d" stroke-width="0.2">5 nm</text>
<text x="560.60" y="75.50" font-size="14.41" textLength="43.63" lengthAdjust="spacingAndGlyphs" fill="#0d0d0d" stroke="#0d0d0d" stroke-width="0.2">10 nm</text>
<rect x="411.60" y="33.60" width="271.80" height="202.40" fill="none" stroke="#262626" stroke-width="0.9"/>
<line x1="408.80" y1="55.50" x2="411.60" y2="55.50" stroke="#262626" stroke-width="0.8"/>
<text x="386.07" y="60.20" font-size="14.41" textLength="20.86" lengthAdjust="spacingAndGlyphs" fill="#0d0d0d" stroke="#0d0d0d" stroke-width="0.2">1.5</text>
<line x1="408.80" y1="93.10" x2="411.60" y2="93.10" stroke="#262626" stroke-width="0.8"/>
<text x="385.77" y="97.80" font-size="14.41" textLength="21.12" lengthAdjust="spacingAndGlyphs" fill="#0d0d0d" stroke="#0d0d0d" stroke-width="0.2">1.0</text>
<line x1="408.80" y1="130.70" x2="411.60" y2="130.70" stroke="#262626" stroke-width="0.8"/>
<text x="386.03" y="135.40" font-size="14.41" textLength="20.91" lengthAdjust="spacingAndGlyphs" fill="#0d0d0d" stroke="#0d0d0d" stroke-width="0.2">0.5</text>
<line x1="408.80" y1="168.30" x2="411.60" y2="168.30" stroke="#262626" stroke-width="0.8"/>
<text x="385.73" y="173.00" font-size="14.41" textLength="21.16" lengthAdjust="spacingAndGlyphs" fill="#0d0d0d" stroke="#0d0d0d" stroke-width="0.2">0.0</text>
<line x1="408.80" y1="205.90" x2="411.60" y2="205.90" stroke="#262626" stroke-width="0.8"/>
<text x="374.88" y="210.60" font-size="14.41" textLength="32.10" lengthAdjust="spacingAndGlyphs" fill="#0d0d0d" stroke="#0d0d0d" stroke-width="0.2">−0.5</text>
<line x1="423.60" y1="236.00" x2="423.60" y2="238.80" stroke="#262626" stroke-width="0.8"/>
<text x="407.61" y="250.90" font-size="14.41" textLength="32.49" lengthAdjust="spacingAndGlyphs" fill="#0d0d0d" stroke="#0d0d0d" stroke-width="0.2">−0.6</text>
<line x1="478.50" y1="236.00" x2="478.50" y2="238.80" stroke="#262626" stroke-width="0.8"/>
<text x="462.47" y="250.90" font-size="14.41" textLength="32.33" lengthAdjust="spacingAndGlyphs" fill="#0d0d0d" stroke="#0d0d0d" stroke-width="0.2">−0.4</text>
<line x1="533.40" y1="236.00" x2="533.40" y2="238.80" stroke="#262626" stroke-width="0.8"/>
<text x="517.68" y="250.90" font-size="14.41" textLength="32.06" lengthAdjust="spacingAndGlyphs" fill="#0d0d0d" stroke="#0d0d0d" stroke-width="0.2">−0.2</text>
<line x1="588.30" y1="236.00" x2="588.30" y2="238.80" stroke="#262626" stroke-width="0.8"/>
<text x="578.02" y="250.90" font-size="14.41" textLength="21.16" lengthAdjust="spacingAndGlyphs" fill="#0d0d0d" stroke="#0d0d0d" stroke-width="0.2">0.0</text>
<line x1="643.20" y1="236.00" x2="643.20" y2="238.80" stroke="#262626" stroke-width="0.8"/>
<text x="633.16" y="250.90" font-size="14.41" textLength="20.85" lengthAdjust="spacingAndGlyphs" fill="#0d0d0d" stroke="#0d0d0d" stroke-width="0.2">0.2</text>
<text x="399.87" y="266.00" font-size="14.15" textLength="277.59" lengthAdjust="spacingAndGlyphs" fill="#0d0d0d" stroke="#0d0d0d" stroke-width="0.2">Oxygen chemical potential vs. 1 bar (eV)</text>
<text transform="rotate(-90)" x="-141.50" y="368.20" font-size="14.00" textLength="8.12" lengthAdjust="spacingAndGlyphs" fill="#0d0d0d" stroke="#0d0d0d" stroke-width="0.2">ν</text>
<text transform="rotate(-90)" x="-133.25" y="370.60" font-size="9.80" textLength="5.67" lengthAdjust="spacingAndGlyphs" fill="#0d0d0d" font-style="italic" stroke="#0d0d0d" stroke-width="0.2">p</text>
<text x="359.13" y="13.40" font-size="17.20" textLength="21.15" lengthAdjust="spacingAndGlyphs" fill="#0d0d0d" stroke="#0d0d0d" stroke-width="0.05">(b)</text>
<rect x="56.10" y="289.10" width="135.00" height="208.60" fill="#fefaf7"/>
<rect x="191.10" y="289.10" width="130.70" height="208.60" fill="#f9fbfe"/>
<text x="62.24" y="491.00" font-size="14.60" textLength="34.44" lengthAdjust="spacingAndGlyphs" fill="#d6a593">SOFC</text>
<text x="285.05" y="491.20" font-size="14.60" textLength="34.52" lengthAdjust="spacingAndGlyphs" fill="#a7c6ec">SOEC</text>
<text x="171.48" y="491.90" font-size="13.39" textLength="33.46" lengthAdjust="spacingAndGlyphs" fill="#0d0d0d" stroke="#0d0d0d" stroke-width="0.2">1 bar</text>
<circle cx="67.70" cy="431.10" r="3.6" fill="#96b6fb" stroke="#1a1a1a" stroke-width="0.8"/>
<circle cx="79.90" cy="437.80" r="3.6" fill="#96b6fb" stroke="#1a1a1a" stroke-width="0.8"/>
<circle cx="92.50" cy="442.20" r="3.6" fill="#96b6fb" stroke="#1a1a1a" stroke-width="0.8"/>
<circle cx="104.90" cy="446.80" r="3.6" fill="#96b6fb" stroke="#1a1a1a" stroke-width="0.8"/>
<circle cx="117.40" cy="451.00" r="3.6" fill="#96b6fb" stroke="#1a1a1a" stroke-width="0.8"/>
<circle cx="129.60" cy="456.20" r="3.6" fill="#96b6fb" stroke="#1a1a1a" stroke-width="0.8"/>
<circle cx="141.90" cy="461.30" r="3.6" fill="#96b6fb" stroke="#1a1a1a" stroke-width="0.8"/>
<circle cx="154.10" cy="466.40" r="3.6" fill="#96b6fb" stroke="#1a1a1a" stroke-width="0.8"/>
<circle cx="166.10" cy="474.90" r="3.6" fill="#96b6fb" stroke="#1a1a1a" stroke-width="0.8"/>
<circle cx="214.90" cy="472.90" r="3.6" fill="#96b6fb" stroke="#1a1a1a" stroke-width="0.8"/>
<circle cx="227.20" cy="460.90" r="3.6" fill="#96b6fb" stroke="#1a1a1a" stroke-width="0.8"/>
<circle cx="239.20" cy="455.00" r="3.6" fill="#96b6fb" stroke="#1a1a1a" stroke-width="0.8"/>
<circle cx="251.20" cy="452.10" r="3.6" fill="#96b6fb" stroke="#1a1a1a" stroke-width="0.8"/>
<circle cx="263.20" cy="448.30" r="3.6" fill="#96b6fb" stroke="#1a1a1a" stroke-width="0.8"/>
<circle cx="274.90" cy="443.80" r="3.6" fill="#96b6fb" stroke="#1a1a1a" stroke-width="0.8"/>
<circle cx="287.20" cy="439.50" r="3.6" fill="#96b6fb" stroke="#1a1a1a" stroke-width="0.8"/>
<circle cx="298.40" cy="435.00" r="3.6" fill="#96b6fb" stroke="#1a1a1a" stroke-width="0.8"/>
<circle cx="310.20" cy="430.70" r="3.6" fill="#96b6fb" stroke="#1a1a1a" stroke-width="0.8"/>
<polyline points="67.70,430.00 166.10,474.20" fill="none" stroke="#3557d6" stroke-width="1.2" stroke-dasharray="2.7 1.6"/>
<polyline points="214.60,467.70 313.60,429.60" fill="none" stroke="#3557d6" stroke-width="1.2" stroke-dasharray="2.7 1.6"/>
<circle cx="100.00" cy="404.50" r="3.6" fill="#f5b99d" stroke="#1a1a1a" stroke-width="0.8"/>
<circle cx="105.10" cy="407.80" r="3.6" fill="#f5b99d" stroke="#1a1a1a" stroke-width="0.8"/>
<circle cx="112.60" cy="410.60" r="3.6" fill="#f5b99d" stroke="#1a1a1a" stroke-width="0.8"/>
<circle cx="120.40" cy="414.30" r="3.6" fill="#f5b99d" stroke="#1a1a1a" stroke-width="0.8"/>
<circle cx="130.00" cy="418.80" r="3.6" fill="#f5b99d" stroke="#1a1a1a" stroke-width="0.8"/>
<circle cx="138.40" cy="423.90" r="3.6" fill="#f5b99d" stroke="#1a1a1a" stroke-width="0.8"/>
<circle cx="148.00" cy="430.00" r="3.6" fill="#f5b99d" stroke="#1a1a1a" stroke-width="0.8"/>
<circle cx="158.60" cy="436.80" r="3.6" fill="#f5b99d" stroke="#1a1a1a" stroke-width="0.8"/>
<circle cx="170.10" cy="446.00" r="3.6" fill="#f5b99d" stroke="#1a1a1a" stroke-width="0.8"/>
<circle cx="218.40" cy="447.80" r="3.6" fill="#f5b99d" stroke="#1a1a1a" stroke-width="0.8"/>
<circle cx="232.00" cy="440.90" r="3.6" fill="#f5b99d" stroke="#1a1a1a" stroke-width="0.8"/>
<circle cx="241.90" cy="434.20" r="3.6" fill="#f5b99d" stroke="#1a1a1a" stroke-width="0.8"/>
<circle cx="249.90" cy="428.60" r="3.6" fill="#f5b99d" stroke="#1a1a1a" stroke-width="0.8"/>
<circle cx="257.10" cy="423.00" r="3.6" fill="#f5b99d" stroke="#1a1a1a" stroke-width="0.8"/>
<circle cx="264.00" cy="418.70" r="3.6" fill="#f5b99d" stroke="#1a1a1a" stroke-width="0.8"/>
<circle cx="268.00" cy="413.90" r="3.6" fill="#f5b99d" stroke="#1a1a1a" stroke-width="0.8"/>
<circle cx="272.00" cy="410.20" r="3.6" fill="#f5b99d" stroke="#1a1a1a" stroke-width="0.8"/>
<circle cx="277.60" cy="406.70" r="3.6" fill="#f5b99d" stroke="#1a1a1a" stroke-width="0.8"/>
<polyline points="100.00,404.50 105.10,407.80 112.60,410.60 120.40,414.30 130.00,418.80 138.40,423.90 148.00,430.00 158.60,436.80 170.10,446.00" fill="none" stroke="#ee9878" stroke-width="1.0" stroke-dasharray="2.4 1.6"/>
<polyline points="218.40,447.80 232.00,440.90 241.90,434.20 249.90,428.60 257.10,423.00 264.00,418.70 268.00,413.90 272.00,410.20 277.60,406.70" fill="none" stroke="#ee9878" stroke-width="1.0" stroke-dasharray="2.4 1.6"/>
<circle cx="113.90" cy="351.70" r="3.6" fill="#f09072" stroke="#1a1a1a" stroke-width="0.8"/>
<circle cx="120.90" cy="354.90" r="3.6" fill="#f09072" stroke="#1a1a1a" stroke-width="0.8"/>
<circle cx="127.70" cy="358.00" r="3.6" fill="#f09072" stroke="#1a1a1a" stroke-width="0.8"/>
<circle cx="134.30" cy="362.20" r="3.6" fill="#f09072" stroke="#1a1a1a" stroke-width="0.8"/>
<circle cx="141.20" cy="366.70" r="3.6" fill="#f09072" stroke="#1a1a1a" stroke-width="0.8"/>
<circle cx="147.90" cy="372.80" r="3.6" fill="#f09072" stroke="#1a1a1a" stroke-width="0.8"/>
<circle cx="155.00" cy="379.70" r="3.6" fill="#f09072" stroke="#1a1a1a" stroke-width="0.8"/>
<circle cx="163.10" cy="388.60" r="3.6" fill="#f09072" stroke="#1a1a1a" stroke-width="0.8"/>
<circle cx="171.80" cy="400.10" r="3.6" fill="#f09072" stroke="#1a1a1a" stroke-width="0.8"/>
<circle cx="218.40" cy="404.20" r="3.6" fill="#f09072" stroke="#1a1a1a" stroke-width="0.8"/>
<circle cx="222.00" cy="399.90" r="3.6" fill="#f09072" stroke="#1a1a1a" stroke-width="0.8"/>
<circle cx="229.30" cy="391.10" r="3.6" fill="#f09072" stroke="#1a1a1a" stroke-width="0.8"/>
<circle cx="237.00" cy="379.10" r="3.6" fill="#f09072" stroke="#1a1a1a" stroke-width="0.8"/>
<circle cx="242.90" cy="369.60" r="3.6" fill="#f09072" stroke="#1a1a1a" stroke-width="0.8"/>
<circle cx="247.80" cy="362.30" r="3.6" fill="#f09072" stroke="#1a1a1a" stroke-width="0.8"/>
<circle cx="251.90" cy="357.10" r="3.6" fill="#f09072" stroke="#1a1a1a" stroke-width="0.8"/>
<circle cx="257.00" cy="352.80" r="3.6" fill="#f09072" stroke="#1a1a1a" stroke-width="0.8"/>
<circle cx="262.20" cy="349.10" r="3.6" fill="#f09072" stroke="#1a1a1a" stroke-width="0.8"/>
<polyline points="113.90,351.70 120.90,354.90 127.70,358.00 134.30,362.20 141.20,366.70 147.90,372.80 155.00,379.70 163.10,388.60 171.80,400.10" fill="none" stroke="#df4d46" stroke-width="1.0" stroke-dasharray="2.4 1.6"/>
<polyline points="218.40,404.20 222.00,399.90 229.30,391.10 237.00,379.10 242.90,369.60 247.80,362.30 251.90,357.10 257.00,352.80 262.20,349.10" fill="none" stroke="#df4d46" stroke-width="1.0" stroke-dasharray="2.4 1.6"/>
<circle cx="136.20" cy="351.70" r="3.6" fill="#d8534a" stroke="#1a1a1a" stroke-width="0.8"/>
<circle cx="140.90" cy="354.60" r="3.6" fill="#d8534a" stroke="#1a1a1a" stroke-width="0.8"/>
<circle cx="145.50" cy="357.80" r="3.6" fill="#d8534a" stroke="#1a1a1a" stroke-width="0.8"/>
<circle cx="150.40" cy="361.20" r="3.6" fill="#d8534a" stroke="#1a1a1a" stroke-width="0.8"/>
<circle cx="155.00" cy="365.80" r="3.6" fill="#d8534a" stroke="#1a1a1a" stroke-width="0.8"/>
<circle cx="160.10" cy="370.20" r="3.6" fill="#d8534a" stroke="#1a1a1a" stroke-width="0.8"/>
<circle cx="166.00" cy="375.50" r="3.6" fill="#d8534a" stroke="#1a1a1a" stroke-width="0.8"/>
<circle cx="172.00" cy="382.00" r="3.6" fill="#d8534a" stroke="#1a1a1a" stroke-width="0.8"/>
<circle cx="178.40" cy="391.40" r="3.6" fill="#d8534a" stroke="#1a1a1a" stroke-width="0.8"/>
<circle cx="202.00" cy="389.60" r="3.6" fill="#d8534a" stroke="#1a1a1a" stroke-width="0.8"/>
<circle cx="207.40" cy="379.70" r="3.6" fill="#d8534a" stroke="#1a1a1a" stroke-width="0.8"/>
<circle cx="212.20" cy="372.80" r="3.6" fill="#d8534a" stroke="#1a1a1a" stroke-width="0.8"/>
<circle cx="216.90" cy="367.00" r="3.6" fill="#d8534a" stroke="#1a1a1a" stroke-width="0.8"/>
<circle cx="221.00" cy="362.30" r="3.6" fill="#d8534a" stroke="#1a1a1a" stroke-width="0.8"/>
<circle cx="224.90" cy="358.20" r="3.6" fill="#d8534a" stroke="#1a1a1a" stroke-width="0.8"/>
<circle cx="228.90" cy="354.90" r="3.6" fill="#d8534a" stroke="#1a1a1a" stroke-width="0.8"/>
<circle cx="232.20" cy="352.00" r="3.6" fill="#d8534a" stroke="#1a1a1a" stroke-width="0.8"/>
<circle cx="235.90" cy="349.10" r="3.6" fill="#d8534a" stroke="#1a1a1a" stroke-width="0.8"/>
<polyline points="136.20,351.70 140.90,354.60 145.50,357.80 150.40,361.20 155.00,365.80 160.10,370.20 166.00,375.50 172.00,382.00 178.40,391.40" fill="none" stroke="#b91f2c" stroke-width="1.0" stroke-dasharray="2.4 1.6"/>
<polyline points="202.00,389.60 207.40,379.70 212.20,372.80 216.90,367.00 221.00,362.30 224.90,358.20 228.90,354.90 232.20,352.00 235.90,349.10" fill="none" stroke="#b91f2c" stroke-width="1.0" stroke-dasharray="2.4 1.6"/>
<circle cx="81.40" cy="306.30" r="3.35" fill="#96b6fb" stroke="#1a1a1a" stroke-width="0.8"/>
<circle cx="81.40" cy="326.30" r="3.35" fill="#f5b99d" stroke="#1a1a1a" stroke-width="0.8"/>
<circle cx="182.00" cy="306.30" r="3.35" fill="#f09072" stroke="#1a1a1a" stroke-width="0.8"/>
<circle cx="182.00" cy="326.30" r="3.35" fill="#d8534a" stroke="#1a1a1a" stroke-width="0.8"/>
<text x="105.71" y="310.80" font-size="14.52" textLength="33.92" lengthAdjust="spacingAndGlyphs" fill="#0d0d0d" stroke="#0d0d0d" stroke-width="0.2">LSCF</text>
<text x="105.88" y="330.60" font-size="14.52" textLength="35.57" lengthAdjust="spacingAndGlyphs" fill="#0d0d0d" stroke="#0d0d0d" stroke-width="0.2">1 nm</text>
<text x="207.17" y="310.80" font-size="14.52" textLength="34.76" lengthAdjust="spacingAndGlyphs" fill="#0d0d0d" stroke="#0d0d0d" stroke-width="0.2">5 nm</text>
<text x="206.58" y="330.60" font-size="14.52" textLength="44.47" lengthAdjust="spacingAndGlyphs" fill="#0d0d0d" stroke="#0d0d0d" stroke-width="0.2">10 nm</text>
<rect x="55.60" y="288.60" width="266.70" height="209.60" fill="none" stroke="#262626" stroke-width="0.9"/>
<line x1="52.80" y1="498.10" x2="55.60" y2="498.10" stroke="#262626" stroke-width="0.8"/>
<line x1="54.10" y1="482.33" x2="55.60" y2="482.33" stroke="#262626" stroke-width="0.6"/>
<line x1="54.10" y1="473.10" x2="55.60" y2="473.10" stroke="#262626" stroke-width="0.6"/>
<line x1="54.10" y1="466.55" x2="55.60" y2="466.55" stroke="#262626" stroke-width="0.6"/>
<line x1="54.10" y1="461.47" x2="55.60" y2="461.47" stroke="#262626" stroke-width="0.6"/>
<line x1="54.10" y1="457.32" x2="55.60" y2="457.32" stroke="#262626" stroke-width="0.6"/>
<line x1="54.10" y1="453.82" x2="55.60" y2="453.82" stroke="#262626" stroke-width="0.6"/>
<line x1="54.10" y1="450.78" x2="55.60" y2="450.78" stroke="#262626" stroke-width="0.6"/>
<line x1="54.10" y1="448.10" x2="55.60" y2="448.10" stroke="#262626" stroke-width="0.6"/>
<text x="27.15" y="502.90" font-size="14.31" textLength="16.75" lengthAdjust="spacingAndGlyphs" fill="#0d0d0d" stroke="#0d0d0d" stroke-width="0.2">10</text>
<text x="44.46" y="497.70" font-size="10.02" textLength="5.62" lengthAdjust="spacingAndGlyphs" fill="#0d0d0d" stroke="#0d0d0d" stroke-width="0.2">0</text>
<line x1="52.80" y1="445.70" x2="55.60" y2="445.70" stroke="#262626" stroke-width="0.8"/>
<line x1="54.10" y1="429.93" x2="55.60" y2="429.93" stroke="#262626" stroke-width="0.6"/>
<line x1="54.10" y1="420.70" x2="55.60" y2="420.70" stroke="#262626" stroke-width="0.6"/>
<line x1="54.10" y1="414.15" x2="55.60" y2="414.15" stroke="#262626" stroke-width="0.6"/>
<line x1="54.10" y1="409.07" x2="55.60" y2="409.07" stroke="#262626" stroke-width="0.6"/>
<line x1="54.10" y1="404.92" x2="55.60" y2="404.92" stroke="#262626" stroke-width="0.6"/>
<line x1="54.10" y1="401.42" x2="55.60" y2="401.42" stroke="#262626" stroke-width="0.6"/>
<line x1="54.10" y1="398.38" x2="55.60" y2="398.38" stroke="#262626" stroke-width="0.6"/>
<line x1="54.10" y1="395.70" x2="55.60" y2="395.70" stroke="#262626" stroke-width="0.6"/>
<text x="27.15" y="450.50" font-size="14.31" textLength="16.75" lengthAdjust="spacingAndGlyphs" fill="#0d0d0d" stroke="#0d0d0d" stroke-width="0.2">10</text>
<text x="44.55" y="445.30" font-size="10.02" textLength="5.37" lengthAdjust="spacingAndGlyphs" fill="#0d0d0d" stroke="#0d0d0d" stroke-width="0.2">1</text>
<line x1="52.80" y1="393.30" x2="55.60" y2="393.30" stroke="#262626" stroke-width="0.8"/>
<line x1="54.10" y1="377.53" x2="55.60" y2="377.53" stroke="#262626" stroke-width="0.6"/>
<line x1="54.10" y1="368.30" x2="55.60" y2="368.30" stroke="#262626" stroke-width="0.6"/>
<line x1="54.10" y1="361.75" x2="55.60" y2="361.75" stroke="#262626" stroke-width="0.6"/>
<line x1="54.10" y1="356.67" x2="55.60" y2="356.67" stroke="#262626" stroke-width="0.6"/>
<line x1="54.10" y1="352.52" x2="55.60" y2="352.52" stroke="#262626" stroke-width="0.6"/>
<line x1="54.10" y1="349.02" x2="55.60" y2="349.02" stroke="#262626" stroke-width="0.6"/>
<line x1="54.10" y1="345.98" x2="55.60" y2="345.98" stroke="#262626" stroke-width="0.6"/>
<line x1="54.10" y1="343.30" x2="55.60" y2="343.30" stroke="#262626" stroke-width="0.6"/>
<text x="27.15" y="398.10" font-size="14.31" textLength="16.75" lengthAdjust="spacingAndGlyphs" fill="#0d0d0d" stroke="#0d0d0d" stroke-width="0.2">10</text>
<text x="44.44" y="392.90" font-size="10.02" textLength="5.42" lengthAdjust="spacingAndGlyphs" fill="#0d0d0d" stroke="#0d0d0d" stroke-width="0.2">2</text>
<line x1="52.80" y1="340.90" x2="55.60" y2="340.90" stroke="#262626" stroke-width="0.8"/>
<line x1="54.10" y1="325.13" x2="55.60" y2="325.13" stroke="#262626" stroke-width="0.6"/>
<line x1="54.10" y1="315.90" x2="55.60" y2="315.90" stroke="#262626" stroke-width="0.6"/>
<line x1="54.10" y1="309.35" x2="55.60" y2="309.35" stroke="#262626" stroke-width="0.6"/>
<line x1="54.10" y1="304.27" x2="55.60" y2="304.27" stroke="#262626" stroke-width="0.6"/>
<line x1="54.10" y1="300.12" x2="55.60" y2="300.12" stroke="#262626" stroke-width="0.6"/>
<line x1="54.10" y1="296.62" x2="55.60" y2="296.62" stroke="#262626" stroke-width="0.6"/>
<line x1="54.10" y1="293.58" x2="55.60" y2="293.58" stroke="#262626" stroke-width="0.6"/>
<line x1="54.10" y1="290.90" x2="55.60" y2="290.90" stroke="#262626" stroke-width="0.6"/>
<text x="27.15" y="345.70" font-size="14.31" textLength="16.75" lengthAdjust="spacingAndGlyphs" fill="#0d0d0d" stroke="#0d0d0d" stroke-width="0.2">10</text>
<text x="44.59" y="340.50" font-size="10.02" textLength="5.40" lengthAdjust="spacingAndGlyphs" fill="#0d0d0d" stroke="#0d0d0d" stroke-width="0.2">3</text>
<line x1="52.80" y1="288.50" x2="55.60" y2="288.50" stroke="#262626" stroke-width="0.8"/>
<text x="27.15" y="293.30" font-size="14.31" textLength="16.75" lengthAdjust="spacingAndGlyphs" fill="#0d0d0d" stroke="#0d0d0d" stroke-width="0.2">10</text>
<text x="44.46" y="288.10" font-size="10.02" textLength="5.62" lengthAdjust="spacingAndGlyphs" fill="#0d0d0d" stroke="#0d0d0d" stroke-width="0.2">4</text>
<line x1="102.90" y1="498.20" x2="102.90" y2="501.00" stroke="#262626" stroke-width="0.8"/>
<text x="91.49" y="512.80" font-size="14.31" textLength="16.75" lengthAdjust="spacingAndGlyphs" fill="#0d0d0d" stroke="#0d0d0d" stroke-width="0.2">10</text>
<text x="108.80" y="508.00" font-size="10.02" textLength="5.62" lengthAdjust="spacingAndGlyphs" fill="#0d0d0d" stroke="#0d0d0d" stroke-width="0.2">0</text>
<line x1="161.70" y1="498.20" x2="161.70" y2="501.00" stroke="#262626" stroke-width="0.8"/>
<text x="150.29" y="512.80" font-size="14.31" textLength="16.75" lengthAdjust="spacingAndGlyphs" fill="#0d0d0d" stroke="#0d0d0d" stroke-width="0.2">10</text>
<text x="167.58" y="508.00" font-size="10.02" textLength="5.42" lengthAdjust="spacingAndGlyphs" fill="#0d0d0d" stroke="#0d0d0d" stroke-width="0.2">2</text>
<line x1="220.50" y1="498.20" x2="220.50" y2="501.00" stroke="#262626" stroke-width="0.8"/>
<text x="209.09" y="512.80" font-size="14.31" textLength="16.75" lengthAdjust="spacingAndGlyphs" fill="#0d0d0d" stroke="#0d0d0d" stroke-width="0.2">10</text>
<text x="226.40" y="508.00" font-size="10.02" textLength="5.62" lengthAdjust="spacingAndGlyphs" fill="#0d0d0d" stroke="#0d0d0d" stroke-width="0.2">4</text>
<line x1="279.30" y1="498.20" x2="279.30" y2="501.00" stroke="#262626" stroke-width="0.8"/>
<text x="267.89" y="512.80" font-size="14.31" textLength="16.75" lengthAdjust="spacingAndGlyphs" fill="#0d0d0d" stroke="#0d0d0d" stroke-width="0.2">10</text>
<text x="285.10" y="508.00" font-size="10.02" textLength="5.82" lengthAdjust="spacingAndGlyphs" fill="#0d0d0d" stroke="#0d0d0d" stroke-width="0.2">6</text>
<text x="157.32" y="527.80" font-size="15.00" textLength="7.01" lengthAdjust="spacingAndGlyphs" fill="#0d0d0d" font-style="italic" stroke="#0d0d0d" stroke-width="0.2">a</text>
<text x="163.81" y="527.80" font-size="14.60" textLength="9.69" lengthAdjust="spacingAndGlyphs" fill="#0d0d0d" stroke="#0d0d0d" stroke-width="0.2">O</text>
<text x="174.14" y="530.90" font-size="10.20" textLength="7.32" lengthAdjust="spacingAndGlyphs" fill="#0d0d0d" stroke="#0d0d0d" stroke-width="0.2">2</text>
<text x="184.22" y="527.80" font-size="14.60" textLength="36.87" lengthAdjust="spacingAndGlyphs" fill="#0d0d0d" stroke="#0d0d0d" stroke-width="0.2">(bar)</text>
<text transform="rotate(-90)" x="-471.18" y="22.60" font-size="14.13" textLength="141.70" lengthAdjust="spacingAndGlyphs" fill="#0d0d0d" stroke="#0d0d0d" stroke-width="0.2">Current density (A/m</text>
<text transform="rotate(-90)" x="-330.53" y="16.60" font-size="9.89" textLength="5.86" lengthAdjust="spacingAndGlyphs" fill="#0d0d0d" stroke="#0d0d0d" stroke-width="0.2">2</text>
<text transform="rotate(-90)" x="-323.10" y="22.60" font-size="14.13" textLength="5.53" lengthAdjust="spacingAndGlyphs" fill="#0d0d0d" stroke="#0d0d0d" stroke-width="0.2">)</text>
<text x="-0.56" y="282.50" font-size="17.20" textLength="18.13" lengthAdjust="spacingAndGlyphs" fill="#0d0d0d" stroke="#0d0d0d" stroke-width="0.05">(c)</text>
<rect x="415.10" y="290.00" width="268.20" height="111.60" fill="#fefaf7"/>
<rect x="415.10" y="401.60" width="268.20" height="88.50" fill="#f9fbfe"/>
<line x1="672.70" y1="333.40" x2="672.70" y2="344.30" stroke="#e0574c" stroke-width="0.8"/>
<line x1="670.90" y1="333.40" x2="674.50" y2="333.40" stroke="#e0574c" stroke-width="0.8"/>
<line x1="670.90" y1="344.30" x2="674.50" y2="344.30" stroke="#e0574c" stroke-width="0.8"/>
<line x1="653.80" y1="349.20" x2="653.80" y2="358.00" stroke="#e0574c" stroke-width="0.8"/>
<line x1="652.00" y1="349.20" x2="655.60" y2="349.20" stroke="#e0574c" stroke-width="0.8"/>
<line x1="652.00" y1="358.00" x2="655.60" y2="358.00" stroke="#e0574c" stroke-width="0.8"/>
<line x1="631.00" y1="370.00" x2="631.00" y2="383.50" stroke="#a9c2fc" stroke-width="0.8"/>
<line x1="629.20" y1="370.00" x2="632.80" y2="370.00" stroke="#a9c2fc" stroke-width="0.8"/>
<line x1="629.20" y1="383.50" x2="632.80" y2="383.50" stroke="#a9c2fc" stroke-width="0.8"/>
<line x1="631.00" y1="358.00" x2="631.00" y2="366.00" stroke="#e0574c" stroke-width="0.8"/>
<line x1="629.20" y1="358.00" x2="632.80" y2="358.00" stroke="#e0574c" stroke-width="0.8"/>
<line x1="629.20" y1="366.00" x2="632.80" y2="366.00" stroke="#e0574c" stroke-width="0.8"/>
<circle cx="427.10" cy="375.50" r="3.5" fill="#96b6fb" stroke="#1a1a1a" stroke-width="0.7" fill-opacity="0.82" stroke-opacity="0.82"/>
<circle cx="488.30" cy="375.80" r="3.5" fill="#96b6fb" stroke="#1a1a1a" stroke-width="0.7" fill-opacity="0.82" stroke-opacity="0.82"/>
<circle cx="549.80" cy="375.50" r="3.5" fill="#96b6fb" stroke="#1a1a1a" stroke-width="0.7" fill-opacity="0.82" stroke-opacity="0.82"/>
<circle cx="573.90" cy="378.10" r="3.5" fill="#96b6fb" stroke="#1a1a1a" stroke-width="0.7" fill-opacity="0.82" stroke-opacity="0.82"/>
<circle cx="592.50" cy="379.20" r="3.5" fill="#96b6fb" stroke="#1a1a1a" stroke-width="0.7" fill-opacity="0.82" stroke-opacity="0.82"/>
<circle cx="610.90" cy="379.80" r="3.5" fill="#96b6fb" stroke="#1a1a1a" stroke-width="0.7" fill-opacity="0.82" stroke-opacity="0.82"/>
<circle cx="631.00" cy="377.00" r="3.5" fill="#96b6fb" stroke="#1a1a1a" stroke-width="0.7" fill-opacity="0.82" stroke-opacity="0.82"/>
<circle cx="653.80" cy="385.20" r="3.5" fill="#96b6fb" stroke="#1a1a1a" stroke-width="0.7" fill-opacity="0.82" stroke-opacity="0.82"/>
<circle cx="672.70" cy="386.70" r="3.5" fill="#96b6fb" stroke="#1a1a1a" stroke-width="0.7" fill-opacity="0.82" stroke-opacity="0.82"/>
<circle cx="427.10" cy="439.00" r="3.5" fill="#96b6fb" stroke="#1a1a1a" stroke-width="0.7" fill-opacity="0.82" stroke-opacity="0.82"/>
<circle cx="488.30" cy="438.50" r="3.5" fill="#96b6fb" stroke="#1a1a1a" stroke-width="0.7" fill-opacity="0.82" stroke-opacity="0.82"/>
<circle cx="549.80" cy="438.00" r="3.5" fill="#96b6fb" stroke="#1a1a1a" stroke-width="0.7" fill-opacity="0.82" stroke-opacity="0.82"/>
<circle cx="573.90" cy="435.90" r="3.5" fill="#96b6fb" stroke="#1a1a1a" stroke-width="0.7" fill-opacity="0.82" stroke-opacity="0.82"/>
<circle cx="592.50" cy="435.20" r="3.5" fill="#96b6fb" stroke="#1a1a1a" stroke-width="0.7" fill-opacity="0.82" stroke-opacity="0.82"/>
<circle cx="610.90" cy="434.80" r="3.5" fill="#96b6fb" stroke="#1a1a1a" stroke-width="0.7" fill-opacity="0.82" stroke-opacity="0.82"/>
<circle cx="631.00" cy="433.30" r="3.5" fill="#96b6fb" stroke="#1a1a1a" stroke-width="0.7" fill-opacity="0.82" stroke-opacity="0.82"/>
<circle cx="653.80" cy="433.10" r="3.5" fill="#96b6fb" stroke="#1a1a1a" stroke-width="0.7" fill-opacity="0.82" stroke-opacity="0.82"/>
<circle cx="672.70" cy="432.70" r="3.5" fill="#96b6fb" stroke="#1a1a1a" stroke-width="0.7" fill-opacity="0.82" stroke-opacity="0.82"/>
<circle cx="427.10" cy="373.20" r="3.5" fill="#f5b99d" stroke="#1a1a1a" stroke-width="0.7" fill-opacity="0.82" stroke-opacity="0.82"/>
<circle cx="488.30" cy="375.00" r="3.5" fill="#f5b99d" stroke="#1a1a1a" stroke-width="0.7" fill-opacity="0.82" stroke-opacity="0.82"/>
<circle cx="549.80" cy="375.00" r="3.5" fill="#f5b99d" stroke="#1a1a1a" stroke-width="0.7" fill-opacity="0.82" stroke-opacity="0.82"/>
<circle cx="573.90" cy="373.00" r="3.5" fill="#f5b99d" stroke="#1a1a1a" stroke-width="0.7" fill-opacity="0.82" stroke-opacity="0.82"/>
<circle cx="592.50" cy="370.80" r="3.5" fill="#f5b99d" stroke="#1a1a1a" stroke-width="0.7" fill-opacity="0.82" stroke-opacity="0.82"/>
<circle cx="610.90" cy="368.00" r="3.5" fill="#f5b99d" stroke="#1a1a1a" stroke-width="0.7" fill-opacity="0.82" stroke-opacity="0.82"/>
<circle cx="631.00" cy="367.10" r="3.5" fill="#f5b99d" stroke="#1a1a1a" stroke-width="0.7" fill-opacity="0.82" stroke-opacity="0.82"/>
<circle cx="653.80" cy="367.00" r="3.5" fill="#f5b99d" stroke="#1a1a1a" stroke-width="0.7" fill-opacity="0.82" stroke-opacity="0.82"/>
<circle cx="672.70" cy="366.30" r="3.5" fill="#f5b99d" stroke="#1a1a1a" stroke-width="0.7" fill-opacity="0.82" stroke-opacity="0.82"/>
<circle cx="427.10" cy="440.00" r="3.5" fill="#f5b99d" stroke="#1a1a1a" stroke-width="0.7" fill-opacity="0.82" stroke-opacity="0.82"/>
<circle cx="488.30" cy="440.20" r="3.5" fill="#f5b99d" stroke="#1a1a1a" stroke-width="0.7" fill-opacity="0.82" stroke-opacity="0.82"/>
<circle cx="549.80" cy="439.50" r="3.5" fill="#f5b99d" stroke="#1a1a1a" stroke-width="0.7" fill-opacity="0.82" stroke-opacity="0.82"/>
<circle cx="573.90" cy="440.50" r="3.5" fill="#f5b99d" stroke="#1a1a1a" stroke-width="0.7" fill-opacity="0.82" stroke-opacity="0.82"/>
<circle cx="592.50" cy="441.50" r="3.5" fill="#f5b99d" stroke="#1a1a1a" stroke-width="0.7" fill-opacity="0.82" stroke-opacity="0.82"/>
<circle cx="610.90" cy="439.00" r="3.5" fill="#f5b99d" stroke="#1a1a1a" stroke-width="0.7" fill-opacity="0.82" stroke-opacity="0.82"/>
<circle cx="631.00" cy="444.30" r="3.5" fill="#f5b99d" stroke="#1a1a1a" stroke-width="0.7" fill-opacity="0.82" stroke-opacity="0.82"/>
<circle cx="653.80" cy="447.10" r="3.5" fill="#f5b99d" stroke="#1a1a1a" stroke-width="0.7" fill-opacity="0.82" stroke-opacity="0.82"/>
<circle cx="672.70" cy="449.60" r="3.5" fill="#f5b99d" stroke="#1a1a1a" stroke-width="0.7" fill-opacity="0.82" stroke-opacity="0.82"/>
<circle cx="427.10" cy="374.00" r="3.5" fill="#f09072" stroke="#1a1a1a" stroke-width="0.7" fill-opacity="0.82" stroke-opacity="0.82"/>
<circle cx="488.30" cy="375.20" r="3.5" fill="#f09072" stroke="#1a1a1a" stroke-width="0.7" fill-opacity="0.82" stroke-opacity="0.82"/>
<circle cx="549.80" cy="374.50" r="3.5" fill="#f09072" stroke="#1a1a1a" stroke-width="0.7" fill-opacity="0.82" stroke-opacity="0.82"/>
<circle cx="573.90" cy="372.60" r="3.5" fill="#f09072" stroke="#1a1a1a" stroke-width="0.7" fill-opacity="0.82" stroke-opacity="0.82"/>
<circle cx="592.50" cy="370.60" r="3.5" fill="#f09072" stroke="#1a1a1a" stroke-width="0.7" fill-opacity="0.82" stroke-opacity="0.82"/>
<circle cx="610.90" cy="367.80" r="3.5" fill="#f09072" stroke="#1a1a1a" stroke-width="0.7" fill-opacity="0.82" stroke-opacity="0.82"/>
<circle cx="631.00" cy="364.50" r="3.5" fill="#f09072" stroke="#1a1a1a" stroke-width="0.7" fill-opacity="0.82" stroke-opacity="0.82"/>
<circle cx="653.80" cy="359.90" r="3.5" fill="#f09072" stroke="#1a1a1a" stroke-width="0.7" fill-opacity="0.82" stroke-opacity="0.82"/>
<circle cx="672.70" cy="348.60" r="3.5" fill="#f09072" stroke="#1a1a1a" stroke-width="0.7" fill-opacity="0.82" stroke-opacity="0.82"/>
<circle cx="427.10" cy="438.50" r="3.5" fill="#f09072" stroke="#1a1a1a" stroke-width="0.7" fill-opacity="0.82" stroke-opacity="0.82"/>
<circle cx="488.30" cy="439.50" r="3.5" fill="#f09072" stroke="#1a1a1a" stroke-width="0.7" fill-opacity="0.82" stroke-opacity="0.82"/>
<circle cx="549.80" cy="440.00" r="3.5" fill="#f09072" stroke="#1a1a1a" stroke-width="0.7" fill-opacity="0.82" stroke-opacity="0.82"/>
<circle cx="573.90" cy="441.00" r="3.5" fill="#f09072" stroke="#1a1a1a" stroke-width="0.7" fill-opacity="0.82" stroke-opacity="0.82"/>
<circle cx="592.50" cy="442.50" r="3.5" fill="#f09072" stroke="#1a1a1a" stroke-width="0.7" fill-opacity="0.82" stroke-opacity="0.82"/>
<circle cx="610.90" cy="442.50" r="3.5" fill="#f09072" stroke="#1a1a1a" stroke-width="0.7" fill-opacity="0.82" stroke-opacity="0.82"/>
<circle cx="631.00" cy="447.50" r="3.5" fill="#f09072" stroke="#1a1a1a" stroke-width="0.7" fill-opacity="0.82" stroke-opacity="0.82"/>
<circle cx="653.80" cy="451.30" r="3.5" fill="#f09072" stroke="#1a1a1a" stroke-width="0.7" fill-opacity="0.82" stroke-opacity="0.82"/>
<circle cx="672.70" cy="461.30" r="3.5" fill="#f09072" stroke="#1a1a1a" stroke-width="0.7" fill-opacity="0.82" stroke-opacity="0.82"/>
<circle cx="427.10" cy="376.60" r="3.5" fill="#d8534a" stroke="#1a1a1a" stroke-width="0.7" fill-opacity="0.82" stroke-opacity="0.82"/>
<circle cx="488.30" cy="375.50" r="3.5" fill="#d8534a" stroke="#1a1a1a" stroke-width="0.7" fill-opacity="0.82" stroke-opacity="0.82"/>
<circle cx="549.80" cy="373.20" r="3.5" fill="#d8534a" stroke="#1a1a1a" stroke-width="0.7" fill-opacity="0.82" stroke-opacity="0.82"/>
<circle cx="573.90" cy="372.20" r="3.5" fill="#d8534a" stroke="#1a1a1a" stroke-width="0.7" fill-opacity="0.82" stroke-opacity="0.82"/>
<circle cx="592.50" cy="370.30" r="3.5" fill="#d8534a" stroke="#1a1a1a" stroke-width="0.7" fill-opacity="0.82" stroke-opacity="0.82"/>
<circle cx="610.90" cy="367.50" r="3.5" fill="#d8534a" stroke="#1a1a1a" stroke-width="0.7" fill-opacity="0.82" stroke-opacity="0.82"/>
<circle cx="631.00" cy="362.20" r="3.5" fill="#d8534a" stroke="#1a1a1a" stroke-width="0.7" fill-opacity="0.82" stroke-opacity="0.82"/>
<circle cx="653.80" cy="353.60" r="3.5" fill="#d8534a" stroke="#1a1a1a" stroke-width="0.7" fill-opacity="0.82" stroke-opacity="0.82"/>
<circle cx="672.70" cy="338.80" r="3.5" fill="#d8534a" stroke="#1a1a1a" stroke-width="0.7" fill-opacity="0.82" stroke-opacity="0.82"/>
<circle cx="427.10" cy="436.30" r="3.5" fill="#d8534a" stroke="#1a1a1a" stroke-width="0.7" fill-opacity="0.82" stroke-opacity="0.82"/>
<circle cx="488.30" cy="439.50" r="3.5" fill="#d8534a" stroke="#1a1a1a" stroke-width="0.7" fill-opacity="0.82" stroke-opacity="0.82"/>
<circle cx="549.80" cy="441.20" r="3.5" fill="#d8534a" stroke="#1a1a1a" stroke-width="0.7" fill-opacity="0.82" stroke-opacity="0.82"/>
<circle cx="573.90" cy="441.60" r="3.5" fill="#d8534a" stroke="#1a1a1a" stroke-width="0.7" fill-opacity="0.82" stroke-opacity="0.82"/>
<circle cx="592.50" cy="443.30" r="3.5" fill="#d8534a" stroke="#1a1a1a" stroke-width="0.7" fill-opacity="0.82" stroke-opacity="0.82"/>
<circle cx="610.90" cy="444.80" r="3.5" fill="#d8534a" stroke="#1a1a1a" stroke-width="0.7" fill-opacity="0.82" stroke-opacity="0.82"/>
<circle cx="631.00" cy="449.20" r="3.5" fill="#d8534a" stroke="#1a1a1a" stroke-width="0.7" fill-opacity="0.82" stroke-opacity="0.82"/>
<circle cx="653.80" cy="454.50" r="3.5" fill="#d8534a" stroke="#1a1a1a" stroke-width="0.7" fill-opacity="0.82" stroke-opacity="0.82"/>
<circle cx="672.70" cy="462.30" r="3.5" fill="#d8534a" stroke="#1a1a1a" stroke-width="0.7" fill-opacity="0.82" stroke-opacity="0.82"/>
<circle cx="440.20" cy="307.20" r="3.5" fill="#96b6fb" stroke="#1a1a1a" stroke-width="0.7" fill-opacity="0.82" stroke-opacity="0.82"/>
<circle cx="440.20" cy="326.80" r="3.5" fill="#f5b99d" stroke="#1a1a1a" stroke-width="0.7" fill-opacity="0.82" stroke-opacity="0.82"/>
<circle cx="538.60" cy="307.20" r="3.5" fill="#f09072" stroke="#1a1a1a" stroke-width="0.7" fill-opacity="0.82" stroke-opacity="0.82"/>
<circle cx="538.60" cy="326.80" r="3.5" fill="#d8534a" stroke="#1a1a1a" stroke-width="0.7" fill-opacity="0.82" stroke-opacity="0.82"/>
<text x="463.95" y="311.60" font-size="14.20" textLength="32.87" lengthAdjust="spacingAndGlyphs" fill="#262626" stroke="#262626" stroke-width="0.2">LSCF</text>
<text x="464.01" y="331.00" font-size="14.20" textLength="34.72" lengthAdjust="spacingAndGlyphs" fill="#262626" stroke="#262626" stroke-width="0.2">1 nm</text>
<text x="563.07" y="311.60" font-size="14.20" textLength="34.97" lengthAdjust="spacingAndGlyphs" fill="#262626" stroke="#262626" stroke-width="0.2">5 nm</text>
<text x="562.50" y="331.00" font-size="14.20" textLength="43.74" lengthAdjust="spacingAndGlyphs" fill="#262626" stroke="#262626" stroke-width="0.2">10 nm</text>
<rect x="414.60" y="289.50" width="269.20" height="201.10" fill="none" stroke="#6e6e6e" stroke-width="0.9"/>
<line x1="411.80" y1="316.80" x2="414.60" y2="316.80" stroke="#555" stroke-width="0.8"/>
<text x="388.92" y="321.60" font-size="14.20" textLength="20.97" lengthAdjust="spacingAndGlyphs" fill="#0d0d0d" stroke="#0d0d0d" stroke-width="0.2">1.0</text>
<line x1="411.80" y1="362.50" x2="414.60" y2="362.50" stroke="#555" stroke-width="0.8"/>
<text x="389.17" y="367.30" font-size="14.20" textLength="20.75" lengthAdjust="spacingAndGlyphs" fill="#0d0d0d" stroke="#0d0d0d" stroke-width="0.2">0.5</text>
<line x1="411.80" y1="408.20" x2="414.60" y2="408.20" stroke="#555" stroke-width="0.8"/>
<text x="388.88" y="413.00" font-size="14.20" textLength="21.01" lengthAdjust="spacingAndGlyphs" fill="#0d0d0d" stroke="#0d0d0d" stroke-width="0.2">0.0</text>
<line x1="411.80" y1="453.90" x2="414.60" y2="453.90" stroke="#555" stroke-width="0.8"/>
<text x="378.11" y="458.70" font-size="14.20" textLength="31.87" lengthAdjust="spacingAndGlyphs" fill="#0d0d0d" stroke="#0d0d0d" stroke-width="0.2">−0.5</text>
<line x1="427.10" y1="490.60" x2="427.10" y2="493.40" stroke="#555" stroke-width="0.8"/>
<text x="412.09" y="505.50" font-size="14.20" textLength="16.63" lengthAdjust="spacingAndGlyphs" fill="#0d0d0d" stroke="#0d0d0d" stroke-width="0.2">10</text>
<text x="429.46" y="500.00" font-size="9.94" textLength="13.42" lengthAdjust="spacingAndGlyphs" fill="#0d0d0d" stroke="#0d0d0d" stroke-width="0.2">−4</text>
<line x1="488.45" y1="490.60" x2="488.45" y2="493.40" stroke="#555" stroke-width="0.8"/>
<text x="473.44" y="505.50" font-size="14.20" textLength="16.63" lengthAdjust="spacingAndGlyphs" fill="#0d0d0d" stroke="#0d0d0d" stroke-width="0.2">10</text>
<text x="490.82" y="500.00" font-size="9.94" textLength="13.35" lengthAdjust="spacingAndGlyphs" fill="#0d0d0d" stroke="#0d0d0d" stroke-width="0.2">−3</text>
<line x1="549.80" y1="490.60" x2="549.80" y2="493.40" stroke="#555" stroke-width="0.8"/>
<text x="534.79" y="505.50" font-size="14.20" textLength="16.63" lengthAdjust="spacingAndGlyphs" fill="#0d0d0d" stroke="#0d0d0d" stroke-width="0.2">10</text>
<text x="552.17" y="500.00" font-size="9.94" textLength="13.23" lengthAdjust="spacingAndGlyphs" fill="#0d0d0d" stroke="#0d0d0d" stroke-width="0.2">−2</text>
<line x1="611.15" y1="490.60" x2="611.15" y2="493.40" stroke="#555" stroke-width="0.8"/>
<text x="596.14" y="505.50" font-size="14.20" textLength="16.63" lengthAdjust="spacingAndGlyphs" fill="#0d0d0d" stroke="#0d0d0d" stroke-width="0.2">10</text>
<text x="613.52" y="500.00" font-size="9.94" textLength="13.29" lengthAdjust="spacingAndGlyphs" fill="#0d0d0d" stroke="#0d0d0d" stroke-width="0.2">−1</text>
<line x1="672.50" y1="490.60" x2="672.50" y2="493.40" stroke="#555" stroke-width="0.8"/>
<text x="661.47" y="505.50" font-size="14.20" textLength="16.63" lengthAdjust="spacingAndGlyphs" fill="#0d0d0d" stroke="#0d0d0d" stroke-width="0.2">10</text>
<text x="678.66" y="500.00" font-size="9.94" textLength="5.58" lengthAdjust="spacingAndGlyphs" fill="#0d0d0d" stroke="#0d0d0d" stroke-width="0.2">0</text>
<line x1="417.60" y1="490.60" x2="417.60" y2="492.10" stroke="#555" stroke-width="0.6"/>
<line x1="421.15" y1="490.60" x2="421.15" y2="492.10" stroke="#555" stroke-width="0.6"/>
<line x1="424.29" y1="490.60" x2="424.29" y2="492.10" stroke="#555" stroke-width="0.6"/>
<line x1="445.57" y1="490.60" x2="445.57" y2="492.10" stroke="#555" stroke-width="0.6"/>
<line x1="456.37" y1="490.60" x2="456.37" y2="492.10" stroke="#555" stroke-width="0.6"/>
<line x1="464.04" y1="490.60" x2="464.04" y2="492.10" stroke="#555" stroke-width="0.6"/>
<line x1="469.98" y1="490.60" x2="469.98" y2="492.10" stroke="#555" stroke-width="0.6"/>
<line x1="474.84" y1="490.60" x2="474.84" y2="492.10" stroke="#555" stroke-width="0.6"/>
<line x1="478.95" y1="490.60" x2="478.95" y2="492.10" stroke="#555" stroke-width="0.6"/>
<line x1="482.50" y1="490.60" x2="482.50" y2="492.10" stroke="#555" stroke-width="0.6"/>
<line x1="485.64" y1="490.60" x2="485.64" y2="492.10" stroke="#555" stroke-width="0.6"/>
<line x1="506.92" y1="490.60" x2="506.92" y2="492.10" stroke="#555" stroke-width="0.6"/>
<line x1="517.72" y1="490.60" x2="517.72" y2="492.10" stroke="#555" stroke-width="0.6"/>
<line x1="525.39" y1="490.60" x2="525.39" y2="492.10" stroke="#555" stroke-width="0.6"/>
<line x1="531.33" y1="490.60" x2="531.33" y2="492.10" stroke="#555" stroke-width="0.6"/>
<line x1="536.19" y1="490.60" x2="536.19" y2="492.10" stroke="#555" stroke-width="0.6"/>
<line x1="540.30" y1="490.60" x2="540.30" y2="492.10" stroke="#555" stroke-width="0.6"/>
<line x1="543.85" y1="490.60" x2="543.85" y2="492.10" stroke="#555" stroke-width="0.6"/>
<line x1="546.99" y1="490.60" x2="546.99" y2="492.10" stroke="#555" stroke-width="0.6"/>
<line x1="568.27" y1="490.60" x2="568.27" y2="492.10" stroke="#555" stroke-width="0.6"/>
<line x1="579.07" y1="490.60" x2="579.07" y2="492.10" stroke="#555" stroke-width="0.6"/>
<line x1="586.74" y1="490.60" x2="586.74" y2="492.10" stroke="#555" stroke-width="0.6"/>
<line x1="592.68" y1="490.60" x2="592.68" y2="492.10" stroke="#555" stroke-width="0.6"/>
<line x1="597.54" y1="490.60" x2="597.54" y2="492.10" stroke="#555" stroke-width="0.6"/>
<line x1="601.65" y1="490.60" x2="601.65" y2="492.10" stroke="#555" stroke-width="0.6"/>
<line x1="605.20" y1="490.60" x2="605.20" y2="492.10" stroke="#555" stroke-width="0.6"/>
<line x1="608.34" y1="490.60" x2="608.34" y2="492.10" stroke="#555" stroke-width="0.6"/>
<line x1="629.62" y1="490.60" x2="629.62" y2="492.10" stroke="#555" stroke-width="0.6"/>
<line x1="640.42" y1="490.60" x2="640.42" y2="492.10" stroke="#555" stroke-width="0.6"/>
<line x1="648.09" y1="490.60" x2="648.09" y2="492.10" stroke="#555" stroke-width="0.6"/>
<line x1="654.03" y1="490.60" x2="654.03" y2="492.10" stroke="#555" stroke-width="0.6"/>
<line x1="658.89" y1="490.60" x2="658.89" y2="492.10" stroke="#555" stroke-width="0.6"/>
<line x1="663.00" y1="490.60" x2="663.00" y2="492.10" stroke="#555" stroke-width="0.6"/>
<line x1="666.55" y1="490.60" x2="666.55" y2="492.10" stroke="#555" stroke-width="0.6"/>
<line x1="669.69" y1="490.60" x2="669.69" y2="492.10" stroke="#555" stroke-width="0.6"/>
<text x="467.18" y="521.20" font-size="14.52" textLength="164.56" lengthAdjust="spacingAndGlyphs" fill="#0d0d0d" stroke="#0d0d0d" stroke-width="0.2">Oxygen pressure (mbar)</text>
<text transform="rotate(-90)" x="-396.04" y="372.00" font-size="13.80" textLength="6.49" lengthAdjust="spacingAndGlyphs" fill="#0d0d0d" stroke="#0d0d0d" stroke-width="0.2">v</text>
<text transform="rotate(-90)" x="-388.88" y="374.50" font-size="9.60" textLength="4.98" lengthAdjust="spacingAndGlyphs" fill="#0d0d0d" stroke="#0d0d0d" stroke-width="0.2">a</text>
<text x="358.79" y="282.80" font-size="17.20" textLength="21.92" lengthAdjust="spacingAndGlyphs" fill="#0d0d0d" stroke="#0d0d0d" stroke-width="0.05">(d)</text>
</svg>
</body></html>
